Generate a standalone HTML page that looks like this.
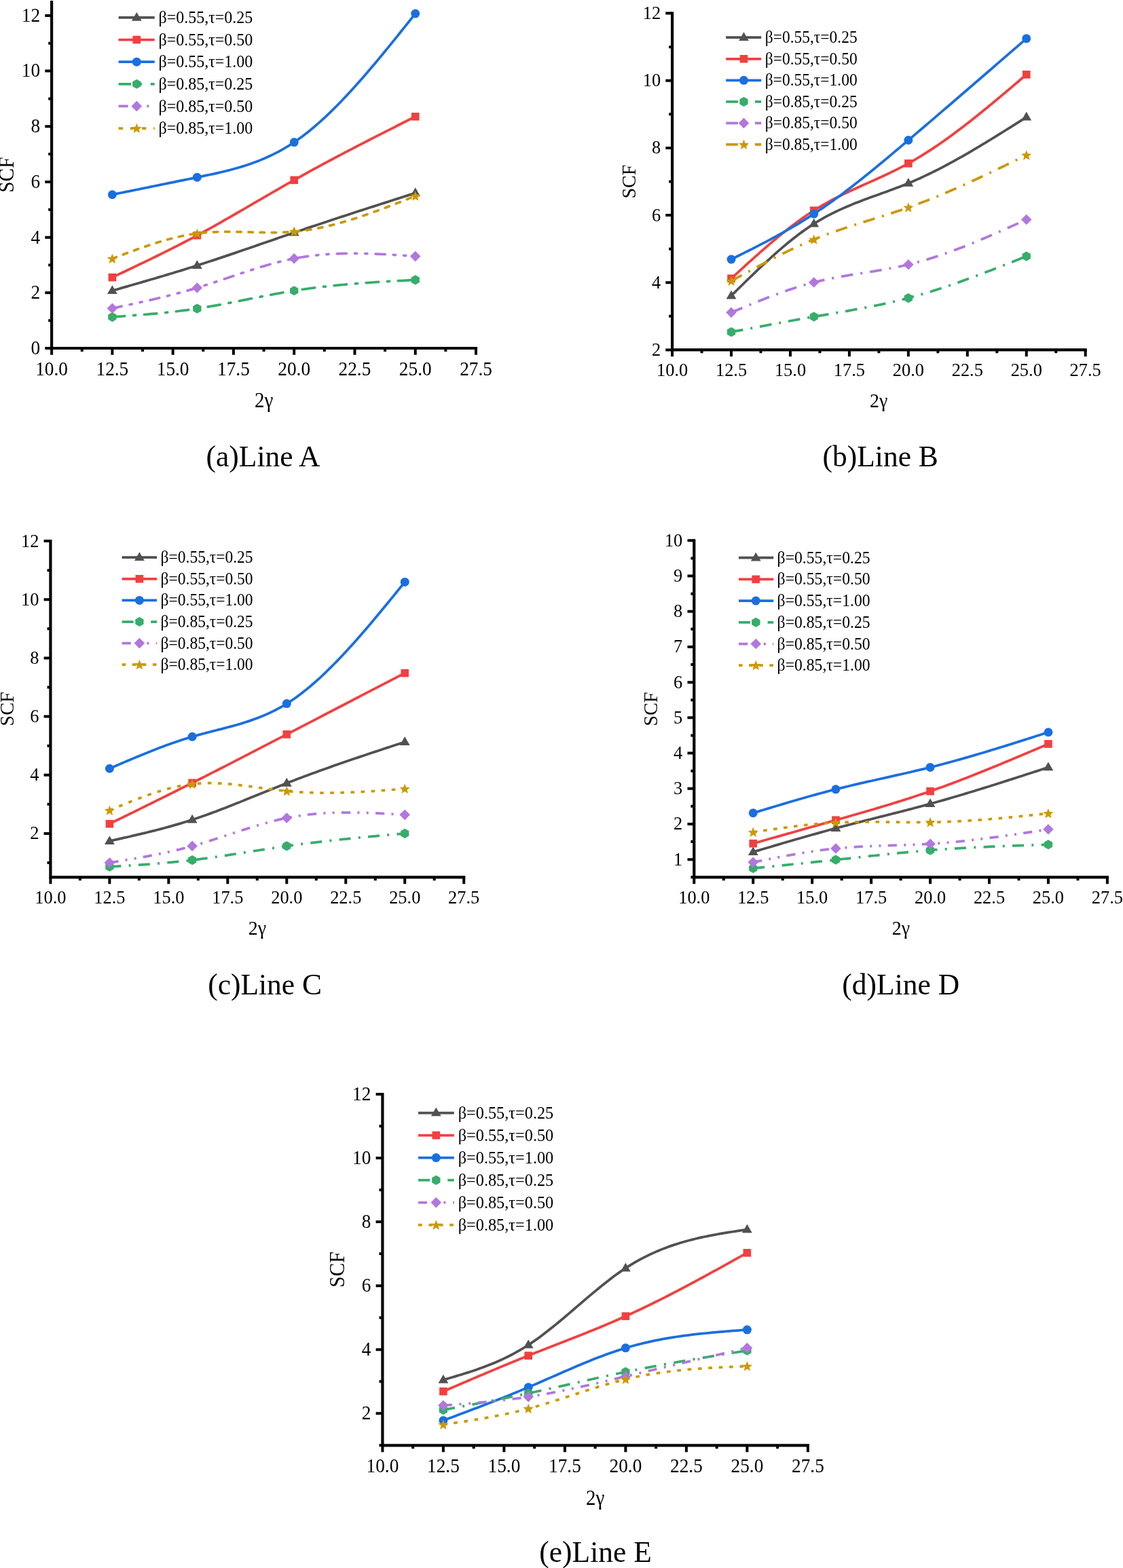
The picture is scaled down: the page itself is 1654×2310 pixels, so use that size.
<!DOCTYPE html>
<html lang="en"><head><meta charset="utf-8"><title>SCF versus 2γ</title>
<style>html,body{margin:0;padding:0;background:#fff}svg{display:block}text{font-family:'Liberation Serif', 'Times New Roman', Times, serif;fill:#000}</style></head><body>
<svg width="1654" height="2310" viewBox="0 0 1654 2310">
<rect width="1654" height="2310" fill="#fff"/>
<g id="chart-a">
<polyline points="165.37,428.26 169.83,426.98 174.3,425.7 178.76,424.42 183.23,423.14 187.69,421.86 192.15,420.57 196.62,419.29 201.08,418 205.54,416.7 210.01,415.41 214.47,414.11 218.93,412.81 223.4,411.5 227.86,410.19 232.32,408.87 236.79,407.55 241.25,406.22 245.72,404.88 250.18,403.54 254.64,402.19 259.11,400.83 263.57,399.47 268.03,398.09 272.5,396.71 276.96,395.32 281.42,393.92 285.89,392.51 290.35,391.09 294.81,389.66 299.28,388.22 303.74,386.77 308.21,385.31 312.67,383.85 317.13,382.37 321.6,380.89 326.06,379.4 330.52,377.9 334.99,376.4 339.45,374.89 343.91,373.38 348.38,371.86 352.84,370.33 357.3,368.81 361.77,367.28 366.23,365.74 370.7,364.21 375.16,362.67 379.62,361.13 384.09,359.59 388.55,358.05 393.01,356.5 397.48,354.96 401.94,353.42 406.4,351.88 410.87,350.34 415.33,348.81 419.79,347.28 424.26,345.75 428.72,344.22 433.19,342.7 437.65,341.18 442.11,339.67 446.58,338.16 451.04,336.65 455.5,335.15 459.97,333.65 464.43,332.16 468.89,330.67 473.36,329.19 477.82,327.7 482.28,326.22 486.75,324.75 491.21,323.28 495.68,321.81 500.14,320.34 504.6,318.88 509.07,317.41 513.53,315.96 517.99,314.5 522.46,313.05 526.92,311.59 531.38,310.15 535.85,308.7 540.31,307.25 544.77,305.81 549.24,304.37 553.7,302.93 558.17,301.49 562.63,300.05 567.09,298.61 571.56,297.18 576.02,295.75 580.48,294.31 584.95,292.88 589.41,291.45 593.87,290.02 598.34,288.59 602.8,287.16 607.26,285.73 611.73,284.3" fill="none" stroke="#515151" stroke-width="3.75" stroke-linejoin="round"/>
<polygon points="165.37,420.32 157.97,433.12 172.77,433.12" fill="#515151"/>
<polygon points="290.35,383.16 282.95,395.96 297.75,395.96" fill="#515151"/>
<polygon points="433.19,334.76 425.79,347.56 440.59,347.56" fill="#515151"/>
<polygon points="611.73,276.36 604.33,289.16 619.13,289.16" fill="#515151"/>
<polyline points="165.37,408.65 169.83,406.54 174.3,404.42 178.76,402.31 183.23,400.19 187.69,398.06 192.15,395.94 196.62,393.81 201.08,391.67 205.54,389.53 210.01,387.38 214.47,385.23 218.93,383.07 223.4,380.89 227.86,378.71 232.32,376.52 236.79,374.32 241.25,372.11 245.72,369.88 250.18,367.64 254.64,365.39 259.11,363.12 263.57,360.84 268.03,358.54 272.5,356.22 276.96,353.89 281.42,351.54 285.89,349.17 290.35,346.78 294.81,344.37 299.28,341.94 303.74,339.5 308.21,337.03 312.67,334.55 317.13,332.06 321.6,329.55 326.06,327.02 330.52,324.49 334.99,321.94 339.45,319.39 343.91,316.82 348.38,314.25 352.84,311.67 357.3,309.09 361.77,306.5 366.23,303.91 370.7,301.31 375.16,298.72 379.62,296.12 384.09,293.52 388.55,290.93 393.01,288.34 397.48,285.75 401.94,283.17 406.4,280.59 410.87,278.02 415.33,275.46 419.79,272.9 424.26,270.36 428.72,267.83 433.19,265.31 437.65,262.8 442.11,260.3 446.58,257.82 451.04,255.35 455.5,252.89 459.97,250.45 464.43,248.01 468.89,245.59 473.36,243.17 477.82,240.77 482.28,238.38 486.75,235.99 491.21,233.62 495.68,231.25 500.14,228.89 504.6,226.55 509.07,224.2 513.53,221.87 517.99,219.54 522.46,217.22 526.92,214.91 531.38,212.61 535.85,210.3 540.31,208.01 544.77,205.72 549.24,203.44 553.7,201.15 558.17,198.88 562.63,196.61 567.09,194.34 571.56,192.07 576.02,189.81 580.48,187.55 584.95,185.29 589.41,183.04 593.87,180.79 598.34,178.53 602.8,176.28 607.26,174.03 611.73,171.78" fill="none" stroke="#F14040" stroke-width="3.75" stroke-linejoin="round"/>
<rect x="159.57" y="402.85" width="11.6" height="11.6" fill="#F14040"/>
<rect x="284.55" y="340.98" width="11.6" height="11.6" fill="#F14040"/>
<rect x="427.39" y="259.51" width="11.6" height="11.6" fill="#F14040"/>
<rect x="605.93" y="165.98" width="11.6" height="11.6" fill="#F14040"/>
<polyline points="165.37,286.75 169.83,285.84 174.3,284.93 178.76,284.02 183.23,283.11 187.69,282.2 192.15,281.29 196.62,280.38 201.08,279.47 205.54,278.56 210.01,277.65 214.47,276.74 218.93,275.83 223.4,274.92 227.86,274.01 232.32,273.1 236.79,272.18 241.25,271.27 245.72,270.36 250.18,269.45 254.64,268.54 259.11,267.62 263.57,266.71 268.03,265.8 272.5,264.88 276.96,263.97 281.42,263.05 285.89,262.14 290.35,261.22 294.81,260.3 299.28,259.38 303.74,258.45 308.21,257.51 312.67,256.55 317.13,255.57 321.6,254.57 326.06,253.53 330.52,252.47 334.99,251.36 339.45,250.22 343.91,249.03 348.38,247.79 352.84,246.5 357.3,245.15 361.77,243.74 366.23,242.27 370.7,240.72 375.16,239.1 379.62,237.41 384.09,235.63 388.55,233.77 393.01,231.82 397.48,229.77 401.94,227.63 406.4,225.39 410.87,223.04 415.33,220.58 419.79,218 424.26,215.31 428.72,212.5 433.19,209.56 437.65,206.49 442.11,203.3 446.58,199.98 451.04,196.54 455.5,192.98 459.97,189.31 464.43,185.53 468.89,181.64 473.36,177.65 477.82,173.56 482.28,169.37 486.75,165.09 491.21,160.71 495.68,156.25 500.14,151.7 504.6,147.07 509.07,142.37 513.53,137.59 517.99,132.73 522.46,127.81 526.92,122.83 531.38,117.78 535.85,112.67 540.31,107.51 544.77,102.3 549.24,97.03 553.7,91.73 558.17,86.38 562.63,80.99 567.09,75.56 571.56,70.1 576.02,64.62 580.48,59.11 584.95,53.57 589.41,48.01 593.87,42.44 598.34,36.86 602.8,31.27 607.26,25.66 611.73,20.06" fill="none" stroke="#1A6FDF" stroke-width="3.75" stroke-linejoin="round"/>
<circle cx="165.37" cy="286.75" r="6.5" fill="#1A6FDF"/>
<circle cx="290.35" cy="261.22" r="6.5" fill="#1A6FDF"/>
<circle cx="433.19" cy="209.56" r="6.5" fill="#1A6FDF"/>
<circle cx="611.73" cy="20.06" r="6.5" fill="#1A6FDF"/>
<polyline points="165.37,467.06 169.83,466.73 174.3,466.4 178.76,466.07 183.23,465.74 187.69,465.4 192.15,465.06 196.62,464.71 201.08,464.36 205.54,464 210.01,463.63 214.47,463.25 218.93,462.87 223.4,462.47 227.86,462.06 232.32,461.64 236.79,461.2 241.25,460.75 245.72,460.29 250.18,459.8 254.64,459.31 259.11,458.79 263.57,458.26 268.03,457.7 272.5,457.12 276.96,456.53 281.42,455.91 285.89,455.27 290.35,454.6 294.81,453.91 299.28,453.19 303.74,452.45 308.21,451.7 312.67,450.92 317.13,450.12 321.6,449.31 326.06,448.49 330.52,447.65 334.99,446.8 339.45,445.94 343.91,445.07 348.38,444.2 352.84,443.32 357.3,442.43 361.77,441.55 366.23,440.66 370.7,439.77 375.16,438.88 379.62,438 384.09,437.13 388.55,436.26 393.01,435.4 397.48,434.54 401.94,433.7 406.4,432.87 410.87,432.06 415.33,431.26 419.79,430.48 424.26,429.72 428.72,428.98 433.19,428.26 437.65,427.56 442.11,426.89 446.58,426.23 451.04,425.6 455.5,424.99 459.97,424.4 464.43,423.83 468.89,423.28 473.36,422.75 477.82,422.24 482.28,421.74 486.75,421.26 491.21,420.8 495.68,420.35 500.14,419.92 504.6,419.5 509.07,419.1 513.53,418.71 517.99,418.33 522.46,417.96 526.92,417.61 531.38,417.27 535.85,416.94 540.31,416.61 544.77,416.3 549.24,416 553.7,415.7 558.17,415.41 562.63,415.13 567.09,414.86 571.56,414.59 576.02,414.32 580.48,414.06 584.95,413.81 589.41,413.56 593.87,413.31 598.34,413.06 602.8,412.82 607.26,412.57 611.73,412.33" fill="none" stroke="#37AD6B" stroke-width="3.75" stroke-linejoin="round" stroke-dasharray="18.5 12.8 3.1 12.8" stroke-linecap="round"/>
<polygon points="165.37,459.95 171.52,463.5 171.52,470.61 165.37,474.16 159.22,470.61 159.22,463.5" fill="#37AD6B"/>
<polygon points="290.35,447.5 296.5,451.05 296.5,458.15 290.35,461.7 284.2,458.15 284.2,451.05" fill="#37AD6B"/>
<polygon points="433.19,421.16 439.33,424.71 439.33,431.81 433.19,435.36 427.04,431.81 427.04,424.71" fill="#37AD6B"/>
<polygon points="611.73,405.23 617.88,408.78 617.88,415.88 611.73,419.43 605.58,415.88 605.58,408.78" fill="#37AD6B"/>
<polyline points="165.37,454.19 169.83,453.25 174.3,452.3 178.76,451.36 183.23,450.41 187.69,449.45 192.15,448.49 196.62,447.53 201.08,446.55 205.54,445.57 210.01,444.58 214.47,443.58 218.93,442.57 223.4,441.55 227.86,440.51 232.32,439.45 236.79,438.39 241.25,437.3 245.72,436.2 250.18,435.08 254.64,433.94 259.11,432.77 263.57,431.59 268.03,430.38 272.5,429.15 276.96,427.9 281.42,426.61 285.89,425.31 290.35,423.97 294.81,422.6 299.28,421.21 303.74,419.8 308.21,418.36 312.67,416.91 317.13,415.44 321.6,413.95 326.06,412.46 330.52,410.96 334.99,409.46 339.45,407.95 343.91,406.45 348.38,404.95 352.84,403.46 357.3,401.97 361.77,400.5 366.23,399.05 370.7,397.61 375.16,396.19 379.62,394.8 384.09,393.43 388.55,392.09 393.01,390.78 397.48,389.51 401.94,388.27 406.4,387.07 410.87,385.92 415.33,384.81 419.79,383.75 424.26,382.74 428.72,381.78 433.19,380.88 437.65,380.04 442.11,379.26 446.58,378.53 451.04,377.86 455.5,377.24 459.97,376.67 464.43,376.15 468.89,375.68 473.36,375.26 477.82,374.89 482.28,374.56 486.75,374.27 491.21,374.02 495.68,373.82 500.14,373.65 504.6,373.52 509.07,373.42 513.53,373.36 517.99,373.33 522.46,373.33 526.92,373.36 531.38,373.42 535.85,373.51 540.31,373.62 544.77,373.76 549.24,373.91 553.7,374.09 558.17,374.29 562.63,374.5 567.09,374.73 571.56,374.98 576.02,375.24 580.48,375.51 584.95,375.79 589.41,376.08 593.87,376.38 598.34,376.68 602.8,376.99 607.26,377.3 611.73,377.62" fill="none" stroke="#B177DE" stroke-width="3.75" stroke-linejoin="round" stroke-dasharray="14.1 12.2 3.1 12.2 3.1 12.2" stroke-linecap="round"/>
<polygon points="165.37,446.39 173.17,454.19 165.37,461.99 157.57,454.19" fill="#B177DE"/>
<polygon points="290.35,416.17 298.15,423.97 290.35,431.77 282.55,423.97" fill="#B177DE"/>
<polygon points="433.19,373.08 440.99,380.88 433.19,388.68 425.39,380.88" fill="#B177DE"/>
<polygon points="611.73,369.82 619.53,377.62 611.73,385.42 603.93,377.62" fill="#B177DE"/>
<polyline points="165.37,381.09 169.83,379.38 174.3,377.68 178.76,375.99 183.23,374.3 187.69,372.63 192.15,370.97 196.62,369.33 201.08,367.7 205.54,366.1 210.01,364.53 214.47,362.99 218.93,361.47 223.4,359.99 227.86,358.55 232.32,357.15 236.79,355.79 241.25,354.48 245.72,353.22 250.18,352.01 254.64,350.85 259.11,349.76 263.57,348.72 268.03,347.74 272.5,346.84 276.96,346 281.42,345.23 285.89,344.54 290.35,343.92 294.81,343.39 299.28,342.93 303.74,342.54 308.21,342.22 312.67,341.96 317.13,341.76 321.6,341.61 326.06,341.51 330.52,341.45 334.99,341.43 339.45,341.44 343.91,341.49 348.38,341.55 352.84,341.64 357.3,341.74 361.77,341.86 366.23,341.98 370.7,342.1 375.16,342.21 379.62,342.32 384.09,342.42 388.55,342.49 393.01,342.55 397.48,342.58 401.94,342.57 406.4,342.53 410.87,342.45 415.33,342.33 419.79,342.15 424.26,341.92 428.72,341.62 433.19,341.27 437.65,340.84 442.11,340.35 446.58,339.79 451.04,339.17 455.5,338.49 459.97,337.74 464.43,336.94 468.89,336.08 473.36,335.17 477.82,334.2 482.28,333.18 486.75,332.11 491.21,330.99 495.68,329.82 500.14,328.61 504.6,327.36 509.07,326.06 513.53,324.72 517.99,323.35 522.46,321.94 526.92,320.5 531.38,319.02 535.85,317.51 540.31,315.97 544.77,314.41 549.24,312.82 553.7,311.2 558.17,309.57 562.63,307.91 567.09,306.23 571.56,304.53 576.02,302.82 580.48,301.1 584.95,299.36 589.41,297.62 593.87,295.86 598.34,294.1 602.8,292.33 607.26,290.56 611.73,288.79" fill="none" stroke="#CC9900" stroke-width="3.75" stroke-linejoin="round" stroke-dasharray="6.4 10.8" stroke-linecap="round"/>
<polygon points="165.37,373.69 167.43,378.86 172.98,379.21 168.7,382.77 170.07,388.16 165.37,385.19 160.67,388.16 162.04,382.77 157.76,379.21 163.31,378.86" fill="#CC9900"/>
<polygon points="290.35,336.52 292.41,341.69 297.96,342.05 293.68,345.6 295.05,350.99 290.35,348.02 285.65,350.99 287.02,345.6 282.74,342.05 288.29,341.69" fill="#CC9900"/>
<polygon points="433.19,333.87 435.24,339.04 440.79,339.4 436.51,342.95 437.89,348.34 433.19,345.37 428.48,348.34 429.86,342.95 425.58,339.4 431.13,339.04" fill="#CC9900"/>
<polygon points="611.73,281.39 613.79,286.56 619.34,286.92 615.06,290.47 616.43,295.86 611.73,292.89 607.03,295.86 608.4,290.47 604.12,286.92 609.67,286.56" fill="#CC9900"/>
<g stroke="#000" fill="none">
<path d="M76.1 3.1V513H701" stroke-width="4.2" stroke-linecap="square"/>
<path d="M76.1 513v9.8M165.37 513v9.8M254.64 513v9.8M343.91 513v9.8M433.19 513v9.8M522.46 513v9.8M611.73 513v9.8M701 513v9.8M120.74 513v4.9M210.01 513v4.9M299.28 513v4.9M388.55 513v4.9M477.82 513v4.9M567.09 513v4.9M656.36 513v4.9M76.1 513h-9.8M76.1 431.32h-9.8M76.1 349.64h-9.8M76.1 267.96h-9.8M76.1 186.28h-9.8M76.1 104.6h-9.8M76.1 22.92h-9.8M76.1 472.16h-4.9M76.1 390.48h-4.9M76.1 308.8h-4.9M76.1 227.12h-4.9M76.1 145.44h-4.9M76.1 63.76h-4.9" stroke-width="4.0"/>
</g>
<text transform="translate(76.1 552.6) scale(0.935 1)" font-size="29.2" text-anchor="middle">10.0</text>
<text transform="translate(165.37 552.6) scale(0.935 1)" font-size="29.2" text-anchor="middle">12.5</text>
<text transform="translate(254.64 552.6) scale(0.935 1)" font-size="29.2" text-anchor="middle">15.0</text>
<text transform="translate(343.91 552.6) scale(0.935 1)" font-size="29.2" text-anchor="middle">17.5</text>
<text transform="translate(433.19 552.6) scale(0.935 1)" font-size="29.2" text-anchor="middle">20.0</text>
<text transform="translate(522.46 552.6) scale(0.935 1)" font-size="29.2" text-anchor="middle">22.5</text>
<text transform="translate(611.73 552.6) scale(0.935 1)" font-size="29.2" text-anchor="middle">25.0</text>
<text transform="translate(701 552.6) scale(0.935 1)" font-size="29.2" text-anchor="middle">27.5</text>
<text transform="translate(59.1 521.87) scale(0.935 1)" font-size="29.2" text-anchor="end">0</text>
<text transform="translate(59.1 440.19) scale(0.935 1)" font-size="29.2" text-anchor="end">2</text>
<text transform="translate(59.1 358.51) scale(0.935 1)" font-size="29.2" text-anchor="end">4</text>
<text transform="translate(59.1 276.83) scale(0.935 1)" font-size="29.2" text-anchor="end">6</text>
<text transform="translate(59.1 195.15) scale(0.935 1)" font-size="29.2" text-anchor="end">8</text>
<text transform="translate(59.1 113.47) scale(0.935 1)" font-size="29.2" text-anchor="end">10</text>
<text transform="translate(59.1 31.79) scale(0.935 1)" font-size="29.2" text-anchor="end">12</text>
<text transform="translate(388.7 600) scale(0.935 1)" font-size="31.02" text-anchor="middle">2γ</text>
<text transform="translate(20 257.6) rotate(-90) scale(0.935 1)" font-size="31.44" text-anchor="middle">SCF</text>
<text transform="translate(387.5 687.1) scale(0.98 1)" font-size="44.39" text-anchor="middle">(a)Line A</text>
<g>
<path d="M174.6 25.9H227.7" fill="none" stroke="#515151" stroke-width="3.75" stroke-linejoin="round"/>
<polygon points="201.3,17.96 193.9,30.76 208.7,30.76" fill="#515151"/>
<text transform="translate(233.5 34.06) scale(0.935 1)" font-size="25.67">β=0.55,τ=0.25</text>
<path d="M174.6 58.52H227.7" fill="none" stroke="#F14040" stroke-width="3.75" stroke-linejoin="round"/>
<rect x="195.5" y="52.72" width="11.6" height="11.6" fill="#F14040"/>
<text transform="translate(233.5 66.68) scale(0.935 1)" font-size="25.67">β=0.55,τ=0.50</text>
<path d="M174.6 91.14H227.7" fill="none" stroke="#1A6FDF" stroke-width="3.75" stroke-linejoin="round"/>
<circle cx="201.3" cy="91.14" r="6.5" fill="#1A6FDF"/>
<text transform="translate(233.5 99.3) scale(0.935 1)" font-size="25.67">β=0.55,τ=1.00</text>
<path d="M174.6 123.76H227.7" fill="none" stroke="#37AD6B" stroke-width="3.75" stroke-linejoin="round" stroke-dasharray="18.5 12.8 3.1 12.8"/>
<polygon points="201.3,116.66 207.45,120.21 207.45,127.31 201.3,130.86 195.15,127.31 195.15,120.21" fill="#37AD6B"/>
<text transform="translate(233.5 131.92) scale(0.935 1)" font-size="25.67">β=0.85,τ=0.25</text>
<path d="M174.6 156.38H227.7" fill="none" stroke="#B177DE" stroke-width="3.75" stroke-linejoin="round" stroke-dasharray="14.1 12.2 3.1 12.2 3.1 12.2"/>
<polygon points="201.3,148.58 209.1,156.38 201.3,164.18 193.5,156.38" fill="#B177DE"/>
<text transform="translate(233.5 164.54) scale(0.935 1)" font-size="25.67">β=0.85,τ=0.50</text>
<path d="M174.6 189H227.7" fill="none" stroke="#CC9900" stroke-width="3.75" stroke-linejoin="round" stroke-dasharray="6.4 10.8"/>
<polygon points="201.3,181.6 203.36,186.77 208.91,187.13 204.63,190.68 206,196.07 201.3,193.1 196.6,196.07 197.97,190.68 193.69,187.13 199.24,186.77" fill="#CC9900"/>
<text transform="translate(233.5 197.16) scale(0.935 1)" font-size="25.67">β=0.85,τ=1.00</text>
</g>
</g>
<g id="chart-b">
<polyline points="1077.04,435.58 1081.39,431.29 1085.74,427.01 1090.08,422.73 1094.43,418.47 1098.78,414.22 1103.13,410 1107.47,405.79 1111.82,401.62 1116.17,397.47 1120.51,393.36 1124.86,389.28 1129.21,385.25 1133.56,381.27 1137.9,377.34 1142.25,373.46 1146.6,369.64 1150.94,365.88 1155.29,362.18 1159.64,358.56 1163.99,355.01 1168.33,351.54 1172.68,348.15 1177.03,344.84 1181.37,341.62 1185.72,338.5 1190.07,335.47 1194.42,332.55 1198.76,329.72 1203.11,327.01 1207.46,324.4 1211.8,321.88 1216.15,319.46 1220.5,317.13 1224.85,314.89 1229.19,312.72 1233.54,310.63 1237.89,308.6 1242.23,306.64 1246.58,304.74 1250.93,302.9 1255.28,301.11 1259.62,299.36 1263.97,297.65 1268.32,295.97 1272.66,294.33 1277.01,292.71 1281.36,291.11 1285.71,289.53 1290.05,287.95 1294.4,286.39 1298.75,284.82 1303.09,283.25 1307.44,281.68 1311.79,280.09 1316.14,278.48 1320.48,276.84 1324.83,275.18 1329.18,273.49 1333.52,271.75 1337.87,269.98 1342.22,268.16 1346.57,266.29 1350.91,264.37 1355.26,262.42 1359.61,260.41 1363.95,258.37 1368.3,256.29 1372.65,254.16 1377,252 1381.34,249.8 1385.69,247.57 1390.04,245.3 1394.38,243 1398.73,240.66 1403.08,238.3 1407.43,235.9 1411.77,233.48 1416.12,231.03 1420.47,228.55 1424.81,226.05 1429.16,223.52 1433.51,220.97 1437.86,218.4 1442.2,215.81 1446.55,213.2 1450.9,210.57 1455.24,207.92 1459.59,205.26 1463.94,202.59 1468.29,199.9 1472.63,197.2 1476.98,194.49 1481.33,191.77 1485.67,189.04 1490.02,186.3 1494.37,183.56 1498.72,180.81 1503.06,178.06 1507.41,175.31 1511.76,172.55" fill="none" stroke="#515151" stroke-width="3.75" stroke-linejoin="round"/>
<polygon points="1077.04,427.64 1069.64,440.44 1084.44,440.44" fill="#515151"/>
<polygon points="1198.76,321.79 1191.36,334.59 1206.16,334.59" fill="#515151"/>
<polygon points="1337.87,262.04 1330.47,274.84 1345.27,274.84" fill="#515151"/>
<polygon points="1511.76,164.62 1504.36,177.42 1519.16,177.42" fill="#515151"/>
<polyline points="1077.04,410.29 1081.39,406.3 1085.74,402.32 1090.08,398.34 1094.43,394.38 1098.78,390.42 1103.13,386.48 1107.47,382.56 1111.82,378.66 1116.17,374.79 1120.51,370.95 1124.86,367.13 1129.21,363.35 1133.56,359.61 1137.9,355.91 1142.25,352.25 1146.6,348.64 1150.94,345.08 1155.29,341.58 1159.64,338.13 1163.99,334.74 1168.33,331.41 1172.68,328.15 1177.03,324.96 1181.37,321.84 1185.72,318.79 1190.07,315.82 1194.42,312.94 1198.76,310.14 1203.11,307.43 1207.46,304.79 1211.8,302.24 1216.15,299.76 1220.5,297.35 1224.85,295.01 1229.19,292.72 1233.54,290.49 1237.89,288.3 1242.23,286.16 1246.58,284.06 1250.93,282 1255.28,279.97 1259.62,277.96 1263.97,275.97 1268.32,274 1272.66,272.04 1277.01,270.09 1281.36,268.14 1285.71,266.18 1290.05,264.22 1294.4,262.24 1298.75,260.25 1303.09,258.23 1307.44,256.19 1311.79,254.12 1316.14,252 1320.48,249.85 1324.83,247.65 1329.18,245.4 1333.52,243.09 1337.87,240.73 1342.22,238.3 1346.57,235.8 1350.91,233.24 1355.26,230.62 1359.61,227.95 1363.95,225.21 1368.3,222.42 1372.65,219.58 1377,216.68 1381.34,213.73 1385.69,210.74 1390.04,207.69 1394.38,204.6 1398.73,201.47 1403.08,198.29 1407.43,195.08 1411.77,191.82 1416.12,188.53 1420.47,185.19 1424.81,181.83 1429.16,178.43 1433.51,175 1437.86,171.55 1442.2,168.06 1446.55,164.55 1450.9,161.01 1455.24,157.45 1459.59,153.87 1463.94,150.27 1468.29,146.65 1472.63,143.02 1476.98,139.37 1481.33,135.7 1485.67,132.03 1490.02,128.35 1494.37,124.65 1498.72,120.95 1503.06,117.25 1507.41,113.54 1511.76,109.84" fill="none" stroke="#F14040" stroke-width="3.75" stroke-linejoin="round"/>
<rect x="1071.24" y="404.49" width="11.6" height="11.6" fill="#F14040"/>
<rect x="1192.96" y="304.34" width="11.6" height="11.6" fill="#F14040"/>
<rect x="1332.07" y="234.93" width="11.6" height="11.6" fill="#F14040"/>
<rect x="1505.96" y="104.04" width="11.6" height="11.6" fill="#F14040"/>
<polyline points="1077.04,382.03 1081.39,379.87 1085.74,377.71 1090.08,375.54 1094.43,373.37 1098.78,371.19 1103.13,369 1107.47,366.8 1111.82,364.59 1116.17,362.37 1120.51,360.13 1124.86,357.87 1129.21,355.59 1133.56,353.29 1137.9,350.97 1142.25,348.63 1146.6,346.25 1150.94,343.85 1155.29,341.42 1159.64,338.96 1163.99,336.47 1168.33,333.94 1172.68,331.37 1177.03,328.77 1181.37,326.12 1185.72,323.43 1190.07,320.7 1194.42,317.92 1198.76,315.1 1203.11,312.22 1207.46,309.3 1211.8,306.33 1216.15,303.32 1220.5,300.27 1224.85,297.17 1229.19,294.03 1233.54,290.85 1237.89,287.64 1242.23,284.38 1246.58,281.1 1250.93,277.78 1255.28,274.42 1259.62,271.04 1263.97,267.63 1268.32,264.19 1272.66,260.72 1277.01,257.23 1281.36,253.71 1285.71,250.18 1290.05,246.62 1294.4,243.04 1298.75,239.45 1303.09,235.83 1307.44,232.21 1311.79,228.57 1316.14,224.91 1320.48,221.25 1324.83,217.58 1329.18,213.9 1333.52,210.21 1337.87,206.52 1342.22,202.82 1346.57,199.12 1350.91,195.42 1355.26,191.71 1359.61,188 1363.95,184.29 1368.3,180.57 1372.65,176.85 1377,173.13 1381.34,169.4 1385.69,165.68 1390.04,161.95 1394.38,158.21 1398.73,154.48 1403.08,150.74 1407.43,147 1411.77,143.26 1416.12,139.51 1420.47,135.77 1424.81,132.02 1429.16,128.27 1433.51,124.52 1437.86,120.76 1442.2,117.01 1446.55,113.25 1450.9,109.49 1455.24,105.73 1459.59,101.97 1463.94,98.21 1468.29,94.45 1472.63,90.68 1476.98,86.92 1481.33,83.15 1485.67,79.39 1490.02,75.62 1494.37,71.85 1498.72,68.09 1503.06,64.32 1507.41,60.55 1511.76,56.78" fill="none" stroke="#1A6FDF" stroke-width="3.75" stroke-linejoin="round"/>
<circle cx="1077.04" cy="382.03" r="6.5" fill="#1A6FDF"/>
<circle cx="1198.76" cy="315.1" r="6.5" fill="#1A6FDF"/>
<circle cx="1337.87" cy="206.52" r="6.5" fill="#1A6FDF"/>
<circle cx="1511.76" cy="56.78" r="6.5" fill="#1A6FDF"/>
<polyline points="1077.04,489.12 1081.39,488.29 1085.74,487.46 1090.08,486.63 1094.43,485.81 1098.78,484.98 1103.13,484.15 1107.47,483.33 1111.82,482.5 1116.17,481.68 1120.51,480.86 1124.86,480.04 1129.21,479.22 1133.56,478.41 1137.9,477.59 1142.25,476.78 1146.6,475.97 1150.94,475.17 1155.29,474.37 1159.64,473.57 1163.99,472.78 1168.33,471.98 1172.68,471.2 1177.03,470.41 1181.37,469.63 1185.72,468.86 1190.07,468.09 1194.42,467.32 1198.76,466.56 1203.11,465.81 1207.46,465.06 1211.8,464.31 1216.15,463.56 1220.5,462.82 1224.85,462.07 1229.19,461.32 1233.54,460.57 1237.89,459.82 1242.23,459.06 1246.58,458.3 1250.93,457.53 1255.28,456.75 1259.62,455.96 1263.97,455.16 1268.32,454.36 1272.66,453.54 1277.01,452.7 1281.36,451.85 1285.71,450.99 1290.05,450.11 1294.4,449.22 1298.75,448.3 1303.09,447.36 1307.44,446.41 1311.79,445.43 1316.14,444.43 1320.48,443.41 1324.83,442.36 1329.18,441.28 1333.52,440.18 1337.87,439.05 1342.22,437.89 1346.57,436.7 1350.91,435.48 1355.26,434.24 1359.61,432.97 1363.95,431.67 1368.3,430.35 1372.65,429 1377,427.64 1381.34,426.24 1385.69,424.83 1390.04,423.4 1394.38,421.94 1398.73,420.47 1403.08,418.97 1407.43,417.46 1411.77,415.93 1416.12,414.38 1420.47,412.82 1424.81,411.24 1429.16,409.65 1433.51,408.04 1437.86,406.42 1442.2,404.79 1446.55,403.14 1450.9,401.49 1455.24,399.82 1459.59,398.15 1463.94,396.46 1468.29,394.77 1472.63,393.07 1476.98,391.37 1481.33,389.65 1485.67,387.94 1490.02,386.22 1494.37,384.49 1498.72,382.76 1503.06,381.03 1507.41,379.3 1511.76,377.57" fill="none" stroke="#37AD6B" stroke-width="3.75" stroke-linejoin="round" stroke-dasharray="17.7 11 3 11"/>
<polygon points="1077.04,482.02 1083.19,485.57 1083.19,492.67 1077.04,496.22 1070.89,492.67 1070.89,485.57" fill="#37AD6B"/>
<polygon points="1198.76,459.46 1204.91,463.01 1204.91,470.11 1198.76,473.66 1192.61,470.11 1192.61,463.01" fill="#37AD6B"/>
<polygon points="1337.87,431.95 1344.02,435.5 1344.02,442.6 1337.87,446.15 1331.72,442.6 1331.72,435.5" fill="#37AD6B"/>
<polygon points="1511.76,370.47 1517.91,374.02 1517.91,381.12 1511.76,384.67 1505.61,381.12 1505.61,374.02" fill="#37AD6B"/>
<polyline points="1077.04,460.37 1081.39,458.55 1085.74,456.73 1090.08,454.91 1094.43,453.1 1098.78,451.3 1103.13,449.51 1107.47,447.73 1111.82,445.96 1116.17,444.2 1120.51,442.47 1124.86,440.74 1129.21,439.04 1133.56,437.36 1137.9,435.71 1142.25,434.08 1146.6,432.47 1150.94,430.9 1155.29,429.35 1159.64,427.84 1163.99,426.36 1168.33,424.92 1172.68,423.52 1177.03,422.16 1181.37,420.83 1185.72,419.55 1190.07,418.32 1194.42,417.13 1198.76,415.99 1203.11,414.9 1207.46,413.86 1211.8,412.86 1216.15,411.91 1220.5,410.99 1224.85,410.11 1229.19,409.26 1233.54,408.44 1237.89,407.64 1242.23,406.87 1246.58,406.12 1250.93,405.39 1255.28,404.67 1259.62,403.96 1263.97,403.26 1268.32,402.57 1272.66,401.87 1277.01,401.18 1281.36,400.48 1285.71,399.78 1290.05,399.07 1294.4,398.34 1298.75,397.6 1303.09,396.84 1307.44,396.06 1311.79,395.25 1316.14,394.41 1320.48,393.55 1324.83,392.65 1329.18,391.71 1333.52,390.73 1337.87,389.71 1342.22,388.65 1346.57,387.54 1350.91,386.39 1355.26,385.19 1359.61,383.95 1363.95,382.68 1368.3,381.36 1372.65,380 1377,378.61 1381.34,377.19 1385.69,375.73 1390.04,374.23 1394.38,372.7 1398.73,371.15 1403.08,369.56 1407.43,367.94 1411.77,366.3 1416.12,364.63 1420.47,362.93 1424.81,361.21 1429.16,359.47 1433.51,357.71 1437.86,355.92 1442.2,354.12 1446.55,352.29 1450.9,350.45 1455.24,348.6 1459.59,346.73 1463.94,344.84 1468.29,342.94 1472.63,341.03 1476.98,339.12 1481.33,337.19 1485.67,335.25 1490.02,333.31 1494.37,331.36 1498.72,329.4 1503.06,327.45 1507.41,325.49 1511.76,323.53" fill="none" stroke="#B177DE" stroke-width="3.75" stroke-linejoin="round" stroke-dasharray="17.7 11 3 11"/>
<polygon points="1077.04,452.57 1084.84,460.37 1077.04,468.17 1069.24,460.37" fill="#B177DE"/>
<polygon points="1198.76,408.19 1206.56,415.99 1198.76,423.79 1190.96,415.99" fill="#B177DE"/>
<polygon points="1337.87,381.91 1345.67,389.71 1337.87,397.51 1330.07,389.71" fill="#B177DE"/>
<polygon points="1511.76,315.73 1519.56,323.53 1511.76,331.33 1503.96,323.53" fill="#B177DE"/>
<polyline points="1077.04,414.01 1081.39,411.62 1085.74,409.23 1090.08,406.85 1094.43,404.47 1098.78,402.09 1103.13,399.73 1107.47,397.37 1111.82,395.03 1116.17,392.69 1120.51,390.37 1124.86,388.07 1129.21,385.78 1133.56,383.52 1137.9,381.27 1142.25,379.04 1146.6,376.84 1150.94,374.66 1155.29,372.51 1159.64,370.38 1163.99,368.29 1168.33,366.23 1172.68,364.19 1177.03,362.2 1181.37,360.24 1185.72,358.31 1190.07,356.43 1194.42,354.58 1198.76,352.78 1203.11,351.02 1207.46,349.3 1211.8,347.62 1216.15,345.97 1220.5,344.36 1224.85,342.79 1229.19,341.24 1233.54,339.72 1237.89,338.22 1242.23,336.75 1246.58,335.3 1250.93,333.87 1255.28,332.45 1259.62,331.05 1263.97,329.66 1268.32,328.28 1272.66,326.91 1277.01,325.54 1281.36,324.18 1285.71,322.81 1290.05,321.45 1294.4,320.08 1298.75,318.7 1303.09,317.32 1307.44,315.92 1311.79,314.52 1316.14,313.09 1320.48,311.65 1324.83,310.2 1329.18,308.71 1333.52,307.21 1337.87,305.68 1342.22,304.12 1346.57,302.53 1350.91,300.91 1355.26,299.27 1359.61,297.6 1363.95,295.91 1368.3,294.2 1372.65,292.46 1377,290.69 1381.34,288.91 1385.69,287.1 1390.04,285.27 1394.38,283.42 1398.73,281.56 1403.08,279.67 1407.43,277.77 1411.77,275.85 1416.12,273.91 1420.47,271.96 1424.81,269.99 1429.16,268.01 1433.51,266.01 1437.86,264 1442.2,261.98 1446.55,259.95 1450.9,257.91 1455.24,255.85 1459.59,253.79 1463.94,251.72 1468.29,249.64 1472.63,247.56 1476.98,245.46 1481.33,243.37 1485.67,241.26 1490.02,239.16 1494.37,237.04 1498.72,234.93 1503.06,232.82 1507.41,230.7 1511.76,228.58" fill="none" stroke="#CC9900" stroke-width="3.75" stroke-linejoin="round" stroke-dasharray="17.7 11 3 11"/>
<polygon points="1077.04,406.61 1079.1,411.78 1084.65,412.14 1080.37,415.69 1081.75,421.08 1077.04,418.11 1072.34,421.08 1073.71,415.69 1069.43,412.14 1074.99,411.78" fill="#CC9900"/>
<polygon points="1198.76,345.38 1200.82,350.55 1206.37,350.91 1202.09,354.46 1203.47,359.85 1198.76,356.88 1194.06,359.85 1195.43,354.46 1191.15,350.91 1196.71,350.55" fill="#CC9900"/>
<polygon points="1337.87,298.28 1339.93,303.45 1345.48,303.8 1341.2,307.36 1342.57,312.75 1337.87,309.78 1333.17,312.75 1334.54,307.36 1330.26,303.8 1335.81,303.45" fill="#CC9900"/>
<polygon points="1511.76,221.18 1513.81,226.35 1519.37,226.71 1515.09,230.26 1516.46,235.65 1511.76,232.68 1507.05,235.65 1508.43,230.26 1504.15,226.71 1509.7,226.35" fill="#CC9900"/>
<g stroke="#000" fill="none">
<path d="M990.1 19.7V515.4H1598.7" stroke-width="4.2" stroke-linecap="square"/>
<path d="M990.1 515.4v9.8M1077.04 515.4v9.8M1163.99 515.4v9.8M1250.93 515.4v9.8M1337.87 515.4v9.8M1424.81 515.4v9.8M1511.76 515.4v9.8M1598.7 515.4v9.8M1033.57 515.4v4.9M1120.51 515.4v4.9M1207.46 515.4v4.9M1294.4 515.4v4.9M1381.34 515.4v4.9M1468.29 515.4v4.9M1555.23 515.4v4.9M990.1 515.4h-9.8M990.1 416.24h-9.8M990.1 317.08h-9.8M990.1 217.92h-9.8M990.1 118.76h-9.8M990.1 19.6h-9.8M990.1 465.82h-4.9M990.1 366.66h-4.9M990.1 267.5h-4.9M990.1 168.34h-4.9M990.1 69.18h-4.9" stroke-width="4.0"/>
</g>
<text transform="translate(990.1 554) scale(0.935 1)" font-size="28.24" text-anchor="middle">10.0</text>
<text transform="translate(1077.04 554) scale(0.935 1)" font-size="28.24" text-anchor="middle">12.5</text>
<text transform="translate(1163.99 554) scale(0.935 1)" font-size="28.24" text-anchor="middle">15.0</text>
<text transform="translate(1250.93 554) scale(0.935 1)" font-size="28.24" text-anchor="middle">17.5</text>
<text transform="translate(1337.87 554) scale(0.935 1)" font-size="28.24" text-anchor="middle">20.0</text>
<text transform="translate(1424.81 554) scale(0.935 1)" font-size="28.24" text-anchor="middle">22.5</text>
<text transform="translate(1511.76 554) scale(0.935 1)" font-size="28.24" text-anchor="middle">25.0</text>
<text transform="translate(1598.7 554) scale(0.935 1)" font-size="28.24" text-anchor="middle">27.5</text>
<text transform="translate(973.1 523.94) scale(0.935 1)" font-size="28.24" text-anchor="end">2</text>
<text transform="translate(973.1 424.78) scale(0.935 1)" font-size="28.24" text-anchor="end">4</text>
<text transform="translate(973.1 325.62) scale(0.935 1)" font-size="28.24" text-anchor="end">6</text>
<text transform="translate(973.1 226.46) scale(0.935 1)" font-size="28.24" text-anchor="end">8</text>
<text transform="translate(973.1 127.3) scale(0.935 1)" font-size="28.24" text-anchor="end">10</text>
<text transform="translate(973.1 28.14) scale(0.935 1)" font-size="28.24" text-anchor="end">12</text>
<text transform="translate(1294.2 599.7) scale(0.935 1)" font-size="29.95" text-anchor="middle">2γ</text>
<text transform="translate(935.5 267.6) rotate(-90) scale(0.935 1)" font-size="30.05" text-anchor="middle">SCF</text>
<text transform="translate(1296.7 687.3) scale(0.98 1)" font-size="44.39" text-anchor="middle">(b)Line B</text>
<g>
<path d="M1069.2 55.2H1121.2" fill="none" stroke="#515151" stroke-width="3.75" stroke-linejoin="round"/>
<polygon points="1095.5,47.26 1088.1,60.06 1102.9,60.06" fill="#515151"/>
<text transform="translate(1126.7 63.19) scale(0.935 1)" font-size="25.13">β=0.55,τ=0.25</text>
<path d="M1069.2 86.75H1121.2" fill="none" stroke="#F14040" stroke-width="3.75" stroke-linejoin="round"/>
<rect x="1089.7" y="80.95" width="11.6" height="11.6" fill="#F14040"/>
<text transform="translate(1126.7 94.74) scale(0.935 1)" font-size="25.13">β=0.55,τ=0.50</text>
<path d="M1069.2 118.3H1121.2" fill="none" stroke="#1A6FDF" stroke-width="3.75" stroke-linejoin="round"/>
<circle cx="1095.5" cy="118.3" r="6.5" fill="#1A6FDF"/>
<text transform="translate(1126.7 126.29) scale(0.935 1)" font-size="25.13">β=0.55,τ=1.00</text>
<path d="M1069.2 149.85H1121.2" fill="none" stroke="#37AD6B" stroke-width="3.75" stroke-linejoin="round" stroke-dasharray="17.7 11 3 11"/>
<polygon points="1095.5,142.75 1101.65,146.3 1101.65,153.4 1095.5,156.95 1089.35,153.4 1089.35,146.3" fill="#37AD6B"/>
<text transform="translate(1126.7 157.84) scale(0.935 1)" font-size="25.13">β=0.85,τ=0.25</text>
<path d="M1069.2 181.4H1121.2" fill="none" stroke="#B177DE" stroke-width="3.75" stroke-linejoin="round" stroke-dasharray="17.7 11 3 11"/>
<polygon points="1095.5,173.6 1103.3,181.4 1095.5,189.2 1087.7,181.4" fill="#B177DE"/>
<text transform="translate(1126.7 189.39) scale(0.935 1)" font-size="25.13">β=0.85,τ=0.50</text>
<path d="M1069.2 212.95H1121.2" fill="none" stroke="#CC9900" stroke-width="3.75" stroke-linejoin="round" stroke-dasharray="17.7 11 3 11"/>
<polygon points="1095.5,205.55 1097.56,210.72 1103.11,211.08 1098.83,214.63 1100.2,220.02 1095.5,217.05 1090.8,220.02 1092.17,214.63 1087.89,211.08 1093.44,210.72" fill="#CC9900"/>
<text transform="translate(1126.7 220.94) scale(0.935 1)" font-size="25.13">β=0.85,τ=1.00</text>
</g>
</g>
<g id="chart-c">
<polyline points="161.37,1239.1 165.72,1238.13 170.07,1237.15 174.42,1236.17 178.77,1235.19 183.11,1234.2 187.46,1233.21 191.81,1232.21 196.16,1231.2 200.51,1230.19 204.86,1229.16 209.21,1228.12 213.55,1227.07 217.9,1226.01 222.25,1224.93 226.6,1223.83 230.95,1222.72 235.3,1221.59 239.65,1220.45 243.99,1219.28 248.34,1218.09 252.69,1216.87 257.04,1215.64 261.39,1214.37 265.74,1213.09 270.09,1211.77 274.43,1210.43 278.78,1209.06 283.13,1207.65 287.48,1206.22 291.83,1204.75 296.18,1203.26 300.53,1201.74 304.87,1200.19 309.22,1198.62 313.57,1197.03 317.92,1195.41 322.27,1193.77 326.62,1192.12 330.97,1190.44 335.31,1188.75 339.66,1187.05 344.01,1185.33 348.36,1183.61 352.71,1181.87 357.06,1180.12 361.41,1178.36 365.75,1176.6 370.1,1174.84 374.45,1173.07 378.8,1171.3 383.15,1169.52 387.5,1167.75 391.85,1165.99 396.19,1164.22 400.54,1162.46 404.89,1160.71 409.24,1158.97 413.59,1157.24 417.94,1155.51 422.29,1153.8 426.63,1152.11 430.98,1150.42 435.33,1148.75 439.68,1147.09 444.03,1145.45 448.38,1143.82 452.73,1142.2 457.07,1140.59 461.42,1138.99 465.77,1137.4 470.12,1135.82 474.47,1134.26 478.82,1132.7 483.17,1131.15 487.51,1129.61 491.86,1128.08 496.21,1126.56 500.56,1125.05 504.91,1123.54 509.26,1122.04 513.61,1120.55 517.95,1119.07 522.3,1117.59 526.65,1116.11 531,1114.64 535.35,1113.18 539.7,1111.72 544.05,1110.27 548.39,1108.82 552.74,1107.38 557.09,1105.94 561.44,1104.5 565.79,1103.06 570.14,1101.63 574.49,1100.2 578.83,1098.77 583.18,1097.34 587.53,1095.91 591.88,1094.49 596.23,1093.06" fill="none" stroke="#515151" stroke-width="3.75" stroke-linejoin="round"/>
<polygon points="161.37,1231.16 153.97,1243.96 168.77,1243.96" fill="#515151"/>
<polygon points="283.13,1199.72 275.73,1212.52 290.53,1212.52" fill="#515151"/>
<polygon points="422.29,1145.87 414.89,1158.67 429.69,1158.67" fill="#515151"/>
<polygon points="596.23,1085.12 588.83,1097.92 603.63,1097.92" fill="#515151"/>
<polyline points="161.37,1213.68 165.72,1211.55 170.07,1209.41 174.42,1207.28 178.77,1205.14 183.11,1203 187.46,1200.87 191.81,1198.73 196.16,1196.59 200.51,1194.45 204.86,1192.31 209.21,1190.16 213.55,1188.02 217.9,1185.87 222.25,1183.73 226.6,1181.58 230.95,1179.42 235.3,1177.27 239.65,1175.11 243.99,1172.95 248.34,1170.79 252.69,1168.62 257.04,1166.45 261.39,1164.28 265.74,1162.11 270.09,1159.93 274.43,1157.75 278.78,1155.56 283.13,1153.37 287.48,1151.18 291.83,1148.98 296.18,1146.78 300.53,1144.57 304.87,1142.37 309.22,1140.15 313.57,1137.94 317.92,1135.72 322.27,1133.5 326.62,1131.27 330.97,1129.05 335.31,1126.82 339.66,1124.58 344.01,1122.35 348.36,1120.11 352.71,1117.87 357.06,1115.63 361.41,1113.39 365.75,1111.14 370.1,1108.9 374.45,1106.65 378.8,1104.4 383.15,1102.15 387.5,1099.9 391.85,1097.65 396.19,1095.39 400.54,1093.14 404.89,1090.88 409.24,1088.63 413.59,1086.37 417.94,1084.12 422.29,1081.86 426.63,1079.6 430.98,1077.35 435.33,1075.09 439.68,1072.83 444.03,1070.58 448.38,1068.32 452.73,1066.06 457.07,1063.81 461.42,1061.55 465.77,1059.3 470.12,1057.04 474.47,1054.78 478.82,1052.53 483.17,1050.27 487.51,1048.01 491.86,1045.76 496.21,1043.5 500.56,1041.25 504.91,1038.99 509.26,1036.73 513.61,1034.48 517.95,1032.22 522.3,1029.96 526.65,1027.71 531,1025.45 535.35,1023.19 539.7,1020.94 544.05,1018.68 548.39,1016.43 552.74,1014.17 557.09,1011.91 561.44,1009.66 565.79,1007.4 570.14,1005.14 574.49,1002.89 578.83,1000.63 583.18,998.38 587.53,996.12 591.88,993.86 596.23,991.61" fill="none" stroke="#F14040" stroke-width="3.75" stroke-linejoin="round"/>
<rect x="155.57" y="1207.88" width="11.6" height="11.6" fill="#F14040"/>
<rect x="277.33" y="1147.57" width="11.6" height="11.6" fill="#F14040"/>
<rect x="416.49" y="1076.06" width="11.6" height="11.6" fill="#F14040"/>
<rect x="590.43" y="985.81" width="11.6" height="11.6" fill="#F14040"/>
<polyline points="161.37,1132.26 165.72,1130.38 170.07,1128.51 174.42,1126.63 178.77,1124.76 183.11,1122.9 187.46,1121.05 191.81,1119.2 196.16,1117.36 200.51,1115.54 204.86,1113.73 209.21,1111.94 213.55,1110.16 217.9,1108.4 222.25,1106.67 226.6,1104.95 230.95,1103.26 235.3,1101.59 239.65,1099.95 243.99,1098.33 248.34,1096.75 252.69,1095.19 257.04,1093.67 261.39,1092.18 265.74,1090.73 270.09,1089.31 274.43,1087.94 278.78,1086.6 283.13,1085.31 287.48,1084.05 291.83,1082.84 296.18,1081.65 300.53,1080.5 304.87,1079.36 309.22,1078.24 313.57,1077.13 317.92,1076.03 322.27,1074.93 326.62,1073.81 330.97,1072.69 335.31,1071.55 339.66,1070.39 344.01,1069.19 348.36,1067.97 352.71,1066.7 357.06,1065.39 361.41,1064.03 365.75,1062.62 370.1,1061.14 374.45,1059.6 378.8,1057.98 383.15,1056.29 387.5,1054.51 391.85,1052.64 396.19,1050.68 400.54,1048.62 404.89,1046.45 409.24,1044.18 413.59,1041.78 417.94,1039.27 422.29,1036.62 426.63,1033.85 430.98,1030.95 435.33,1027.92 439.68,1024.76 444.03,1021.49 448.38,1018.1 452.73,1014.6 457.07,1010.99 461.42,1007.27 465.77,1003.45 470.12,999.53 474.47,995.51 478.82,991.4 483.17,987.2 487.51,982.92 491.86,978.55 496.21,974.1 500.56,969.57 504.91,964.98 509.26,960.31 513.61,955.57 517.95,950.78 522.3,945.92 526.65,941.01 531,936.04 535.35,931.02 539.7,925.96 544.05,920.85 548.39,915.7 552.74,910.52 557.09,905.31 561.44,900.06 565.79,894.79 570.14,889.49 574.49,884.17 578.83,878.84 583.18,873.5 587.53,868.14 591.88,862.78 596.23,857.41" fill="none" stroke="#1A6FDF" stroke-width="3.75" stroke-linejoin="round"/>
<circle cx="161.37" cy="1132.26" r="6.5" fill="#1A6FDF"/>
<circle cx="283.13" cy="1085.31" r="6.5" fill="#1A6FDF"/>
<circle cx="422.29" cy="1036.62" r="6.5" fill="#1A6FDF"/>
<circle cx="596.23" cy="857.41" r="6.5" fill="#1A6FDF"/>
<polyline points="161.37,1277.01 165.72,1276.74 170.07,1276.47 174.42,1276.19 178.77,1275.92 183.11,1275.64 187.46,1275.36 191.81,1275.08 196.16,1274.79 200.51,1274.49 204.86,1274.19 209.21,1273.89 213.55,1273.57 217.9,1273.25 222.25,1272.92 226.6,1272.59 230.95,1272.24 235.3,1271.88 239.65,1271.51 243.99,1271.13 248.34,1270.74 252.69,1270.34 257.04,1269.92 261.39,1269.49 265.74,1269.04 270.09,1268.58 274.43,1268.11 278.78,1267.61 283.13,1267.1 287.48,1266.58 291.83,1266.03 296.18,1265.47 300.53,1264.89 304.87,1264.31 309.22,1263.7 313.57,1263.09 317.92,1262.46 322.27,1261.83 326.62,1261.18 330.97,1260.53 335.31,1259.86 339.66,1259.19 344.01,1258.52 348.36,1257.84 352.71,1257.16 357.06,1256.47 361.41,1255.78 365.75,1255.09 370.1,1254.4 374.45,1253.71 378.8,1253.02 383.15,1252.34 387.5,1251.65 391.85,1250.98 396.19,1250.3 400.54,1249.64 404.89,1248.98 409.24,1248.32 413.59,1247.68 417.94,1247.05 422.29,1246.42 426.63,1245.81 430.98,1245.21 435.33,1244.62 439.68,1244.04 444.03,1243.48 448.38,1242.92 452.73,1242.37 457.07,1241.83 461.42,1241.3 465.77,1240.78 470.12,1240.27 474.47,1239.77 478.82,1239.27 483.17,1238.78 487.51,1238.3 491.86,1237.83 496.21,1237.36 500.56,1236.91 504.91,1236.45 509.26,1236.01 513.61,1235.57 517.95,1235.13 522.3,1234.7 526.65,1234.27 531,1233.85 535.35,1233.44 539.7,1233.02 544.05,1232.62 548.39,1232.21 552.74,1231.81 557.09,1231.41 561.44,1231.01 565.79,1230.62 570.14,1230.23 574.49,1229.84 578.83,1229.45 583.18,1229.06 587.53,1228.67 591.88,1228.29 596.23,1227.9" fill="none" stroke="#37AD6B" stroke-width="3.75" stroke-linejoin="round" stroke-dasharray="17 11.3 3 11.3"/>
<polygon points="161.37,1269.91 167.52,1273.46 167.52,1280.56 161.37,1284.11 155.22,1280.56 155.22,1273.46" fill="#37AD6B"/>
<polygon points="283.13,1260 289.28,1263.55 289.28,1270.65 283.13,1274.2 276.98,1270.65 276.98,1263.55" fill="#37AD6B"/>
<polygon points="422.29,1239.32 428.43,1242.87 428.43,1249.97 422.29,1253.52 416.14,1249.97 416.14,1242.87" fill="#37AD6B"/>
<polygon points="596.23,1220.8 602.38,1224.35 602.38,1231.45 596.23,1235 590.08,1231.45 590.08,1224.35" fill="#37AD6B"/>
<polyline points="161.37,1270.98 165.72,1270.27 170.07,1269.56 174.42,1268.85 178.77,1268.13 183.11,1267.41 187.46,1266.68 191.81,1265.94 196.16,1265.2 200.51,1264.44 204.86,1263.67 209.21,1262.89 213.55,1262.1 217.9,1261.29 222.25,1260.46 226.6,1259.62 230.95,1258.76 235.3,1257.87 239.65,1256.97 243.99,1256.04 248.34,1255.08 252.69,1254.1 257.04,1253.1 261.39,1252.06 265.74,1251 270.09,1249.91 274.43,1248.78 278.78,1247.62 283.13,1246.42 287.48,1245.19 291.83,1243.93 296.18,1242.64 300.53,1241.32 304.87,1239.97 309.22,1238.61 313.57,1237.22 317.92,1235.82 322.27,1234.41 326.62,1232.99 330.97,1231.56 335.31,1230.12 339.66,1228.69 344.01,1227.25 348.36,1225.83 352.71,1224.4 357.06,1222.99 361.41,1221.6 365.75,1220.22 370.1,1218.85 374.45,1217.52 378.8,1216.2 383.15,1214.91 387.5,1213.66 391.85,1212.44 396.19,1211.25 400.54,1210.1 404.89,1209 409.24,1207.94 413.59,1206.93 417.94,1205.97 422.29,1205.07 426.63,1204.22 430.98,1203.43 435.33,1202.69 439.68,1202 444.03,1201.36 448.38,1200.78 452.73,1200.24 457.07,1199.75 461.42,1199.3 465.77,1198.9 470.12,1198.55 474.47,1198.23 478.82,1197.95 483.17,1197.71 487.51,1197.51 491.86,1197.35 496.21,1197.21 500.56,1197.11 504.91,1197.05 509.26,1197.01 513.61,1197 517.95,1197.02 522.3,1197.06 526.65,1197.13 531,1197.22 535.35,1197.33 539.7,1197.46 544.05,1197.61 548.39,1197.77 552.74,1197.96 557.09,1198.15 561.44,1198.36 565.79,1198.58 570.14,1198.81 574.49,1199.05 578.83,1199.3 583.18,1199.55 587.53,1199.81 591.88,1200.07 596.23,1200.33" fill="none" stroke="#B177DE" stroke-width="3.75" stroke-linejoin="round" stroke-dasharray="13.2 10.3 3 10.3 3 10.3"/>
<polygon points="161.37,1263.18 169.17,1270.98 161.37,1278.78 153.57,1270.98" fill="#B177DE"/>
<polygon points="283.13,1238.62 290.93,1246.42 283.13,1254.22 275.33,1246.42" fill="#B177DE"/>
<polygon points="422.29,1197.27 430.09,1205.07 422.29,1212.87 414.49,1205.07" fill="#B177DE"/>
<polygon points="596.23,1192.53 604.03,1200.33 596.23,1208.13 588.43,1200.33" fill="#B177DE"/>
<polyline points="161.37,1193.87 165.72,1192.04 170.07,1190.21 174.42,1188.39 178.77,1186.58 183.11,1184.78 187.46,1183 191.81,1181.25 196.16,1179.51 200.51,1177.8 204.86,1176.13 209.21,1174.48 213.55,1172.88 217.9,1171.32 222.25,1169.8 226.6,1168.32 230.95,1166.9 235.3,1165.54 239.65,1164.23 243.99,1162.98 248.34,1161.8 252.69,1160.69 257.04,1159.65 261.39,1158.68 265.74,1157.79 270.09,1156.99 274.43,1156.27 278.78,1155.63 283.13,1155.09 287.48,1154.65 291.83,1154.3 296.18,1154.03 300.53,1153.85 304.87,1153.74 309.22,1153.71 313.57,1153.75 317.92,1153.86 322.27,1154.03 326.62,1154.25 330.97,1154.53 335.31,1154.86 339.66,1155.24 344.01,1155.66 348.36,1156.11 352.71,1156.6 357.06,1157.11 361.41,1157.65 365.75,1158.21 370.1,1158.79 374.45,1159.38 378.8,1159.97 383.15,1160.57 387.5,1161.17 391.85,1161.76 396.19,1162.35 400.54,1162.92 404.89,1163.47 409.24,1164.01 413.59,1164.51 417.94,1164.99 422.29,1165.43 426.63,1165.84 430.98,1166.21 435.33,1166.54 439.68,1166.84 444.03,1167.1 448.38,1167.33 452.73,1167.52 457.07,1167.69 461.42,1167.82 465.77,1167.92 470.12,1168 474.47,1168.05 478.82,1168.07 483.17,1168.06 487.51,1168.03 491.86,1167.98 496.21,1167.9 500.56,1167.8 504.91,1167.68 509.26,1167.54 513.61,1167.38 517.95,1167.2 522.3,1167.01 526.65,1166.8 531,1166.57 535.35,1166.33 539.7,1166.08 544.05,1165.81 548.39,1165.53 552.74,1165.24 557.09,1164.94 561.44,1164.64 565.79,1164.32 570.14,1164 574.49,1163.68 578.83,1163.34 583.18,1163.01 587.53,1162.67 591.88,1162.33 596.23,1161.99" fill="none" stroke="#CC9900" stroke-width="3.75" stroke-linejoin="round" stroke-dasharray="5.6 9.5"/>
<polygon points="161.37,1186.47 163.43,1191.64 168.98,1191.99 164.7,1195.55 166.07,1200.94 161.37,1197.97 156.67,1200.94 158.04,1195.55 153.76,1191.99 159.31,1191.64" fill="#CC9900"/>
<polygon points="283.13,1147.69 285.19,1152.86 290.74,1153.22 286.46,1156.78 287.83,1162.17 283.13,1159.19 278.43,1162.17 279.8,1156.78 275.52,1153.22 281.07,1152.86" fill="#CC9900"/>
<polygon points="422.29,1158.03 424.34,1163.2 429.89,1163.56 425.61,1167.12 426.99,1172.51 422.29,1169.53 417.58,1172.51 418.96,1167.12 414.68,1163.56 420.23,1163.2" fill="#CC9900"/>
<polygon points="596.23,1154.59 598.29,1159.76 603.84,1160.12 599.56,1163.67 600.93,1169.06 596.23,1166.09 591.53,1169.06 592.9,1163.67 588.62,1160.12 594.17,1159.76" fill="#CC9900"/>
<g stroke="#000" fill="none">
<path d="M74.4 797.1V1292.35H683.2" stroke-width="4.2" stroke-linecap="square"/>
<path d="M74.4 1292.35v9.8M161.37 1292.35v9.8M248.34 1292.35v9.8M335.31 1292.35v9.8M422.29 1292.35v9.8M509.26 1292.35v9.8M596.23 1292.35v9.8M683.2 1292.35v9.8M117.89 1292.35v4.9M204.86 1292.35v4.9M291.83 1292.35v4.9M378.8 1292.35v4.9M465.77 1292.35v4.9M552.74 1292.35v4.9M639.71 1292.35v4.9M74.4 1227.9h-9.8M74.4 1141.74h-9.8M74.4 1055.58h-9.8M74.4 969.42h-9.8M74.4 883.26h-9.8M74.4 797.1h-9.8M74.4 1270.98h-4.9M74.4 1184.82h-4.9M74.4 1098.66h-4.9M74.4 1012.5h-4.9M74.4 926.34h-4.9M74.4 840.18h-4.9" stroke-width="4.0"/>
</g>
<text transform="translate(74.4 1330.75) scale(0.935 1)" font-size="28.24" text-anchor="middle">10.0</text>
<text transform="translate(161.37 1330.75) scale(0.935 1)" font-size="28.24" text-anchor="middle">12.5</text>
<text transform="translate(248.34 1330.75) scale(0.935 1)" font-size="28.24" text-anchor="middle">15.0</text>
<text transform="translate(335.31 1330.75) scale(0.935 1)" font-size="28.24" text-anchor="middle">17.5</text>
<text transform="translate(422.29 1330.75) scale(0.935 1)" font-size="28.24" text-anchor="middle">20.0</text>
<text transform="translate(509.26 1330.75) scale(0.935 1)" font-size="28.24" text-anchor="middle">22.5</text>
<text transform="translate(596.23 1330.75) scale(0.935 1)" font-size="28.24" text-anchor="middle">25.0</text>
<text transform="translate(683.2 1330.75) scale(0.935 1)" font-size="28.24" text-anchor="middle">27.5</text>
<text transform="translate(57.4 1236.44) scale(0.935 1)" font-size="28.24" text-anchor="end">2</text>
<text transform="translate(57.4 1150.28) scale(0.935 1)" font-size="28.24" text-anchor="end">4</text>
<text transform="translate(57.4 1064.12) scale(0.935 1)" font-size="28.24" text-anchor="end">6</text>
<text transform="translate(57.4 977.96) scale(0.935 1)" font-size="28.24" text-anchor="end">8</text>
<text transform="translate(57.4 891.8) scale(0.935 1)" font-size="28.24" text-anchor="end">10</text>
<text transform="translate(57.4 805.64) scale(0.935 1)" font-size="28.24" text-anchor="end">12</text>
<text transform="translate(378.9 1376.9) scale(0.935 1)" font-size="29.95" text-anchor="middle">2γ</text>
<text transform="translate(19.8 1044.4) rotate(-90) scale(0.935 1)" font-size="30.37" text-anchor="middle">SCF</text>
<text transform="translate(390.1 1465.3) scale(0.98 1)" font-size="44.39" text-anchor="middle">(c)Line C</text>
<g>
<path d="M179.6 821.2H231.1" fill="none" stroke="#515151" stroke-width="3.75" stroke-linejoin="round"/>
<polygon points="205.4,813.26 198,826.06 212.8,826.06" fill="#515151"/>
<text transform="translate(236.6 829.19) scale(0.935 1)" font-size="25.13">β=0.55,τ=0.25</text>
<path d="M179.6 852.8H231.1" fill="none" stroke="#F14040" stroke-width="3.75" stroke-linejoin="round"/>
<rect x="199.6" y="847" width="11.6" height="11.6" fill="#F14040"/>
<text transform="translate(236.6 860.79) scale(0.935 1)" font-size="25.13">β=0.55,τ=0.50</text>
<path d="M179.6 884.4H231.1" fill="none" stroke="#1A6FDF" stroke-width="3.75" stroke-linejoin="round"/>
<circle cx="205.4" cy="884.4" r="6.5" fill="#1A6FDF"/>
<text transform="translate(236.6 892.39) scale(0.935 1)" font-size="25.13">β=0.55,τ=1.00</text>
<path d="M179.6 916H231.1" fill="none" stroke="#37AD6B" stroke-width="3.75" stroke-linejoin="round" stroke-dasharray="17 11.3 3 11.3"/>
<polygon points="205.4,908.9 211.55,912.45 211.55,919.55 205.4,923.1 199.25,919.55 199.25,912.45" fill="#37AD6B"/>
<text transform="translate(236.6 923.99) scale(0.935 1)" font-size="25.13">β=0.85,τ=0.25</text>
<path d="M179.6 947.6H231.1" fill="none" stroke="#B177DE" stroke-width="3.75" stroke-linejoin="round" stroke-dasharray="13.2 10.3 3 10.3 3 10.3"/>
<polygon points="205.4,939.8 213.2,947.6 205.4,955.4 197.6,947.6" fill="#B177DE"/>
<text transform="translate(236.6 955.59) scale(0.935 1)" font-size="25.13">β=0.85,τ=0.50</text>
<path d="M179.6 979.2H231.1" fill="none" stroke="#CC9900" stroke-width="3.75" stroke-linejoin="round" stroke-dasharray="5.6 9.5"/>
<polygon points="205.4,971.8 207.46,976.97 213.01,977.33 208.73,980.88 210.1,986.27 205.4,983.3 200.7,986.27 202.07,980.88 197.79,977.33 203.34,976.97" fill="#CC9900"/>
<text transform="translate(236.6 987.19) scale(0.935 1)" font-size="25.13">β=0.85,τ=1.00</text>
</g>
</g>
<g id="chart-d">
<polyline points="1109.24,1255.19 1113.59,1253.9 1117.94,1252.6 1122.28,1251.31 1126.63,1250.02 1130.98,1248.74 1135.33,1247.45 1139.67,1246.16 1144.02,1244.88 1148.37,1243.6 1152.71,1242.32 1157.06,1241.05 1161.41,1239.78 1165.76,1238.51 1170.1,1237.25 1174.45,1236 1178.8,1234.74 1183.14,1233.5 1187.49,1232.25 1191.84,1231.02 1196.19,1229.79 1200.53,1228.57 1204.88,1227.35 1209.23,1226.14 1213.57,1224.94 1217.92,1223.74 1222.27,1222.56 1226.62,1221.38 1230.96,1220.21 1235.31,1219.05 1239.66,1217.9 1244,1216.76 1248.35,1215.63 1252.7,1214.5 1257.05,1213.37 1261.39,1212.26 1265.74,1211.14 1270.09,1210.03 1274.43,1208.93 1278.78,1207.83 1283.13,1206.73 1287.48,1205.63 1291.82,1204.53 1296.17,1203.43 1300.52,1202.33 1304.86,1201.23 1309.21,1200.13 1313.56,1199.03 1317.91,1197.92 1322.25,1196.81 1326.6,1195.7 1330.95,1194.58 1335.29,1193.46 1339.64,1192.33 1343.99,1191.19 1348.34,1190.05 1352.68,1188.9 1357.03,1187.74 1361.38,1186.57 1365.72,1185.39 1370.07,1184.2 1374.42,1182.99 1378.77,1181.78 1383.11,1180.56 1387.46,1179.33 1391.81,1178.08 1396.15,1176.83 1400.5,1175.57 1404.85,1174.3 1409.2,1173.02 1413.54,1171.73 1417.89,1170.43 1422.24,1169.13 1426.58,1167.81 1430.93,1166.49 1435.28,1165.17 1439.63,1163.83 1443.97,1162.49 1448.32,1161.14 1452.67,1159.79 1457.01,1158.43 1461.36,1157.06 1465.71,1155.69 1470.06,1154.32 1474.4,1152.93 1478.75,1151.55 1483.1,1150.16 1487.44,1148.77 1491.79,1147.37 1496.14,1145.97 1500.49,1144.57 1504.83,1143.16 1509.18,1141.75 1513.53,1140.34 1517.87,1138.93 1522.22,1137.52 1526.57,1136.1 1530.92,1134.68 1535.26,1133.27 1539.61,1131.85 1543.96,1130.43" fill="none" stroke="#515151" stroke-width="3.75" stroke-linejoin="round"/>
<polygon points="1109.24,1247.25 1101.84,1260.05 1116.64,1260.05" fill="#515151"/>
<polygon points="1230.96,1212.28 1223.56,1225.08 1238.36,1225.08" fill="#515151"/>
<polygon points="1370.07,1176.26 1362.67,1189.06 1377.47,1189.06" fill="#515151"/>
<polygon points="1543.96,1122.49 1536.56,1135.29 1551.36,1135.29" fill="#515151"/>
<polyline points="1109.24,1242.66 1113.59,1241.43 1117.94,1240.2 1122.28,1238.97 1126.63,1237.75 1130.98,1236.52 1135.33,1235.29 1139.67,1234.06 1144.02,1232.83 1148.37,1231.6 1152.71,1230.37 1157.06,1229.14 1161.41,1227.91 1165.76,1226.68 1170.1,1225.45 1174.45,1224.22 1178.8,1222.99 1183.14,1221.76 1187.49,1220.53 1191.84,1219.3 1196.19,1218.07 1200.53,1216.84 1204.88,1215.61 1209.23,1214.37 1213.57,1213.14 1217.92,1211.91 1222.27,1210.68 1226.62,1209.44 1230.96,1208.21 1235.31,1206.97 1239.66,1205.74 1244,1204.5 1248.35,1203.26 1252.7,1202.02 1257.05,1200.78 1261.39,1199.53 1265.74,1198.28 1270.09,1197.02 1274.43,1195.76 1278.78,1194.49 1283.13,1193.22 1287.48,1191.94 1291.82,1190.65 1296.17,1189.36 1300.52,1188.06 1304.86,1186.74 1309.21,1185.42 1313.56,1184.09 1317.91,1182.75 1322.25,1181.4 1326.6,1180.04 1330.95,1178.66 1335.29,1177.27 1339.64,1175.87 1343.99,1174.46 1348.34,1173.03 1352.68,1171.59 1357.03,1170.13 1361.38,1168.66 1365.72,1167.17 1370.07,1165.67 1374.42,1164.14 1378.77,1162.6 1383.11,1161.05 1387.46,1159.48 1391.81,1157.89 1396.15,1156.29 1400.5,1154.67 1404.85,1153.04 1409.2,1151.4 1413.54,1149.74 1417.89,1148.07 1422.24,1146.39 1426.58,1144.69 1430.93,1142.99 1435.28,1141.27 1439.63,1139.54 1443.97,1137.8 1448.32,1136.06 1452.67,1134.3 1457.01,1132.53 1461.36,1130.76 1465.71,1128.97 1470.06,1127.18 1474.4,1125.39 1478.75,1123.58 1483.1,1121.77 1487.44,1119.95 1491.79,1118.13 1496.14,1116.3 1500.49,1114.47 1504.83,1112.63 1509.18,1110.79 1513.53,1108.95 1517.87,1107.1 1522.22,1105.25 1526.57,1103.4 1530.92,1101.54 1535.26,1099.69 1539.61,1097.83 1543.96,1095.98" fill="none" stroke="#F14040" stroke-width="3.75" stroke-linejoin="round"/>
<rect x="1103.44" y="1236.86" width="11.6" height="11.6" fill="#F14040"/>
<rect x="1225.16" y="1202.41" width="11.6" height="11.6" fill="#F14040"/>
<rect x="1364.27" y="1159.87" width="11.6" height="11.6" fill="#F14040"/>
<rect x="1538.16" y="1090.18" width="11.6" height="11.6" fill="#F14040"/>
<polyline points="1109.24,1197.77 1113.59,1196.44 1117.94,1195.12 1122.28,1193.8 1126.63,1192.48 1130.98,1191.16 1135.33,1189.85 1139.67,1188.54 1144.02,1187.23 1148.37,1185.93 1152.71,1184.63 1157.06,1183.34 1161.41,1182.05 1165.76,1180.77 1170.1,1179.5 1174.45,1178.24 1178.8,1176.98 1183.14,1175.73 1187.49,1174.5 1191.84,1173.27 1196.19,1172.06 1200.53,1170.85 1204.88,1169.66 1209.23,1168.48 1213.57,1167.32 1217.92,1166.16 1222.27,1165.03 1226.62,1163.9 1230.96,1162.79 1235.31,1161.7 1239.66,1160.62 1244,1159.56 1248.35,1158.51 1252.7,1157.47 1257.05,1156.44 1261.39,1155.43 1265.74,1154.42 1270.09,1153.42 1274.43,1152.43 1278.78,1151.44 1283.13,1150.46 1287.48,1149.48 1291.82,1148.51 1296.17,1147.54 1300.52,1146.57 1304.86,1145.6 1309.21,1144.63 1313.56,1143.65 1317.91,1142.68 1322.25,1141.7 1326.6,1140.72 1330.95,1139.73 1335.29,1138.74 1339.64,1137.73 1343.99,1136.72 1348.34,1135.7 1352.68,1134.67 1357.03,1133.63 1361.38,1132.58 1365.72,1131.51 1370.07,1130.43 1374.42,1129.33 1378.77,1128.22 1383.11,1127.1 1387.46,1125.96 1391.81,1124.8 1396.15,1123.64 1400.5,1122.46 1404.85,1121.26 1409.2,1120.06 1413.54,1118.84 1417.89,1117.62 1422.24,1116.38 1426.58,1115.13 1430.93,1113.87 1435.28,1112.6 1439.63,1111.32 1443.97,1110.03 1448.32,1108.73 1452.67,1107.43 1457.01,1106.11 1461.36,1104.79 1465.71,1103.47 1470.06,1102.13 1474.4,1100.79 1478.75,1099.44 1483.1,1098.09 1487.44,1096.73 1491.79,1095.36 1496.14,1094 1500.49,1092.62 1504.83,1091.25 1509.18,1089.87 1513.53,1088.48 1517.87,1087.1 1522.22,1085.71 1526.57,1084.32 1530.92,1082.93 1535.26,1081.54 1539.61,1080.15 1543.96,1078.75" fill="none" stroke="#1A6FDF" stroke-width="3.75" stroke-linejoin="round"/>
<circle cx="1109.24" cy="1197.77" r="6.5" fill="#1A6FDF"/>
<circle cx="1230.96" cy="1162.79" r="6.5" fill="#1A6FDF"/>
<circle cx="1370.07" cy="1130.43" r="6.5" fill="#1A6FDF"/>
<circle cx="1543.96" cy="1078.75" r="6.5" fill="#1A6FDF"/>
<polyline points="1109.24,1279.2 1113.59,1278.76 1117.94,1278.33 1122.28,1277.89 1126.63,1277.45 1130.98,1277.02 1135.33,1276.58 1139.67,1276.14 1144.02,1275.7 1148.37,1275.26 1152.71,1274.82 1157.06,1274.38 1161.41,1273.94 1165.76,1273.5 1170.1,1273.05 1174.45,1272.61 1178.8,1272.16 1183.14,1271.71 1187.49,1271.26 1191.84,1270.81 1196.19,1270.36 1200.53,1269.91 1204.88,1269.45 1209.23,1268.99 1213.57,1268.53 1217.92,1268.07 1222.27,1267.61 1226.62,1267.14 1230.96,1266.67 1235.31,1266.2 1239.66,1265.73 1244,1265.25 1248.35,1264.78 1252.7,1264.3 1257.05,1263.83 1261.39,1263.35 1265.74,1262.87 1270.09,1262.4 1274.43,1261.92 1278.78,1261.45 1283.13,1260.98 1287.48,1260.51 1291.82,1260.05 1296.17,1259.58 1300.52,1259.12 1304.86,1258.67 1309.21,1258.22 1313.56,1257.77 1317.91,1257.33 1322.25,1256.9 1326.6,1256.47 1330.95,1256.04 1335.29,1255.63 1339.64,1255.22 1343.99,1254.81 1348.34,1254.42 1352.68,1254.03 1357.03,1253.66 1361.38,1253.29 1365.72,1252.93 1370.07,1252.58 1374.42,1252.24 1378.77,1251.91 1383.11,1251.59 1387.46,1251.28 1391.81,1250.98 1396.15,1250.69 1400.5,1250.4 1404.85,1250.13 1409.2,1249.86 1413.54,1249.6 1417.89,1249.35 1422.24,1249.1 1426.58,1248.87 1430.93,1248.64 1435.28,1248.41 1439.63,1248.2 1443.97,1247.98 1448.32,1247.78 1452.67,1247.58 1457.01,1247.38 1461.36,1247.19 1465.71,1247.01 1470.06,1246.83 1474.4,1246.65 1478.75,1246.48 1483.1,1246.32 1487.44,1246.15 1491.79,1245.99 1496.14,1245.83 1500.49,1245.68 1504.83,1245.53 1509.18,1245.38 1513.53,1245.23 1517.87,1245.08 1522.22,1244.94 1526.57,1244.79 1530.92,1244.65 1535.26,1244.51 1539.61,1244.37 1543.96,1244.23" fill="none" stroke="#37AD6B" stroke-width="3.75" stroke-linejoin="round" stroke-dasharray="17 11.3 3 11.3"/>
<polygon points="1109.24,1272.1 1115.39,1275.65 1115.39,1282.75 1109.24,1286.3 1103.09,1282.75 1103.09,1275.65" fill="#37AD6B"/>
<polygon points="1230.96,1259.57 1237.11,1263.12 1237.11,1270.22 1230.96,1273.77 1224.81,1270.22 1224.81,1263.12" fill="#37AD6B"/>
<polygon points="1370.07,1245.48 1376.22,1249.03 1376.22,1256.13 1370.07,1259.68 1363.92,1256.13 1363.92,1249.03" fill="#37AD6B"/>
<polygon points="1543.96,1237.13 1550.11,1240.68 1550.11,1247.78 1543.96,1251.33 1537.81,1247.78 1537.81,1240.68" fill="#37AD6B"/>
<polyline points="1109.24,1270.33 1113.59,1269.45 1117.94,1268.58 1122.28,1267.71 1126.63,1266.85 1130.98,1265.99 1135.33,1265.13 1139.67,1264.28 1144.02,1263.44 1148.37,1262.61 1152.71,1261.79 1157.06,1260.97 1161.41,1260.18 1165.76,1259.39 1170.1,1258.62 1174.45,1257.86 1178.8,1257.12 1183.14,1256.4 1187.49,1255.7 1191.84,1255.02 1196.19,1254.36 1200.53,1253.72 1204.88,1253.11 1209.23,1252.51 1213.57,1251.95 1217.92,1251.41 1222.27,1250.9 1226.62,1250.42 1230.96,1249.97 1235.31,1249.55 1239.66,1249.16 1244,1248.79 1248.35,1248.46 1252.7,1248.14 1257.05,1247.86 1261.39,1247.59 1265.74,1247.34 1270.09,1247.11 1274.43,1246.9 1278.78,1246.7 1283.13,1246.52 1287.48,1246.35 1291.82,1246.18 1296.17,1246.03 1300.52,1245.88 1304.86,1245.74 1309.21,1245.61 1313.56,1245.47 1317.91,1245.34 1322.25,1245.2 1326.6,1245.06 1330.95,1244.92 1335.29,1244.77 1339.64,1244.62 1343.99,1244.45 1348.34,1244.28 1352.68,1244.09 1357.03,1243.89 1361.38,1243.67 1365.72,1243.44 1370.07,1243.18 1374.42,1242.91 1378.77,1242.62 1383.11,1242.3 1387.46,1241.97 1391.81,1241.62 1396.15,1241.25 1400.5,1240.87 1404.85,1240.47 1409.2,1240.05 1413.54,1239.62 1417.89,1239.17 1422.24,1238.7 1426.58,1238.22 1430.93,1237.73 1435.28,1237.23 1439.63,1236.71 1443.97,1236.18 1448.32,1235.64 1452.67,1235.08 1457.01,1234.52 1461.36,1233.95 1465.71,1233.36 1470.06,1232.77 1474.4,1232.17 1478.75,1231.56 1483.1,1230.94 1487.44,1230.32 1491.79,1229.68 1496.14,1229.05 1500.49,1228.4 1504.83,1227.76 1509.18,1227.1 1513.53,1226.45 1517.87,1225.79 1522.22,1225.12 1526.57,1224.46 1530.92,1223.79 1535.26,1223.12 1539.61,1222.45 1543.96,1221.78" fill="none" stroke="#B177DE" stroke-width="3.75" stroke-linejoin="round" stroke-dasharray="13.2 10.3 3 10.3 3 10.3"/>
<polygon points="1109.24,1262.53 1117.04,1270.33 1109.24,1278.13 1101.44,1270.33" fill="#B177DE"/>
<polygon points="1230.96,1242.17 1238.76,1249.97 1230.96,1257.77 1223.16,1249.97" fill="#B177DE"/>
<polygon points="1370.07,1235.38 1377.87,1243.18 1370.07,1250.98 1362.27,1243.18" fill="#B177DE"/>
<polygon points="1543.96,1213.98 1551.76,1221.78 1543.96,1229.58 1536.16,1221.78" fill="#B177DE"/>
<polyline points="1109.24,1225.96 1113.59,1225.31 1117.94,1224.67 1122.28,1224.04 1126.63,1223.4 1130.98,1222.77 1135.33,1222.15 1139.67,1221.53 1144.02,1220.92 1148.37,1220.31 1152.71,1219.72 1157.06,1219.14 1161.41,1218.56 1165.76,1218.01 1170.1,1217.46 1174.45,1216.93 1178.8,1216.42 1183.14,1215.92 1187.49,1215.44 1191.84,1214.98 1196.19,1214.54 1200.53,1214.12 1204.88,1213.72 1209.23,1213.35 1213.57,1213 1217.92,1212.67 1222.27,1212.37 1226.62,1212.1 1230.96,1211.86 1235.31,1211.65 1239.66,1211.46 1244,1211.31 1248.35,1211.17 1252.7,1211.06 1257.05,1210.97 1261.39,1210.91 1265.74,1210.86 1270.09,1210.82 1274.43,1210.81 1278.78,1210.81 1283.13,1210.82 1287.48,1210.84 1291.82,1210.87 1296.17,1210.91 1300.52,1210.96 1304.86,1211.01 1309.21,1211.06 1313.56,1211.12 1317.91,1211.18 1322.25,1211.23 1326.6,1211.29 1330.95,1211.34 1335.29,1211.38 1339.64,1211.42 1343.99,1211.44 1348.34,1211.46 1352.68,1211.47 1357.03,1211.46 1361.38,1211.44 1365.72,1211.4 1370.07,1211.34 1374.42,1211.26 1378.77,1211.17 1383.11,1211.05 1387.46,1210.92 1391.81,1210.77 1396.15,1210.61 1400.5,1210.42 1404.85,1210.23 1409.2,1210.01 1413.54,1209.78 1417.89,1209.54 1422.24,1209.28 1426.58,1209.01 1430.93,1208.72 1435.28,1208.42 1439.63,1208.11 1443.97,1207.79 1448.32,1207.46 1452.67,1207.12 1457.01,1206.76 1461.36,1206.4 1465.71,1206.03 1470.06,1205.65 1474.4,1205.26 1478.75,1204.86 1483.1,1204.45 1487.44,1204.04 1491.79,1203.62 1496.14,1203.2 1500.49,1202.77 1504.83,1202.34 1509.18,1201.9 1513.53,1201.45 1517.87,1201.01 1522.22,1200.56 1526.57,1200.11 1530.92,1199.66 1535.26,1199.2 1539.61,1198.75 1543.96,1198.29" fill="none" stroke="#CC9900" stroke-width="3.75" stroke-linejoin="round" stroke-dasharray="5.6 9.5"/>
<polygon points="1109.24,1218.56 1111.3,1223.72 1116.85,1224.08 1112.57,1227.64 1113.95,1233.03 1109.24,1230.06 1104.54,1233.03 1105.91,1227.64 1101.63,1224.08 1107.19,1223.72" fill="#CC9900"/>
<polygon points="1230.96,1204.46 1233.02,1209.63 1238.57,1209.99 1234.29,1213.54 1235.67,1218.93 1230.96,1215.96 1226.26,1218.93 1227.63,1213.54 1223.35,1209.99 1228.91,1209.63" fill="#CC9900"/>
<polygon points="1370.07,1203.94 1372.13,1209.11 1377.68,1209.47 1373.4,1213.02 1374.77,1218.41 1370.07,1215.44 1365.37,1218.41 1366.74,1213.02 1362.46,1209.47 1368.01,1209.11" fill="#CC9900"/>
<polygon points="1543.96,1190.89 1546.01,1196.06 1551.57,1196.42 1547.29,1199.97 1548.66,1205.36 1543.96,1202.39 1539.25,1205.36 1540.63,1199.97 1536.35,1196.42 1541.9,1196.06" fill="#CC9900"/>
<g stroke="#000" fill="none">
<path d="M1022.3 796.45V1292.35H1630.9" stroke-width="4.2" stroke-linecap="square"/>
<path d="M1022.3 1292.35v9.8M1109.24 1292.35v9.8M1196.19 1292.35v9.8M1283.13 1292.35v9.8M1370.07 1292.35v9.8M1457.01 1292.35v9.8M1543.96 1292.35v9.8M1630.9 1292.35v9.8M1065.77 1292.35v4.9M1152.71 1292.35v4.9M1239.66 1292.35v4.9M1326.6 1292.35v4.9M1413.54 1292.35v4.9M1500.49 1292.35v4.9M1587.43 1292.35v4.9M1022.3 1266.15h-9.8M1022.3 1213.95h-9.8M1022.3 1161.75h-9.8M1022.3 1109.55h-9.8M1022.3 1057.35h-9.8M1022.3 1005.15h-9.8M1022.3 952.95h-9.8M1022.3 900.75h-9.8M1022.3 848.55h-9.8M1022.3 796.35h-9.8M1022.3 1292.25h-4.9M1022.3 1240.05h-4.9M1022.3 1187.85h-4.9M1022.3 1135.65h-4.9M1022.3 1083.45h-4.9M1022.3 1031.25h-4.9M1022.3 979.05h-4.9M1022.3 926.85h-4.9M1022.3 874.65h-4.9M1022.3 822.45h-4.9" stroke-width="4.0"/>
</g>
<text transform="translate(1022.3 1330.9) scale(0.935 1)" font-size="28.24" text-anchor="middle">10.0</text>
<text transform="translate(1109.24 1330.9) scale(0.935 1)" font-size="28.24" text-anchor="middle">12.5</text>
<text transform="translate(1196.19 1330.9) scale(0.935 1)" font-size="28.24" text-anchor="middle">15.0</text>
<text transform="translate(1283.13 1330.9) scale(0.935 1)" font-size="28.24" text-anchor="middle">17.5</text>
<text transform="translate(1370.07 1330.9) scale(0.935 1)" font-size="28.24" text-anchor="middle">20.0</text>
<text transform="translate(1457.01 1330.9) scale(0.935 1)" font-size="28.24" text-anchor="middle">22.5</text>
<text transform="translate(1543.96 1330.9) scale(0.935 1)" font-size="28.24" text-anchor="middle">25.0</text>
<text transform="translate(1630.9 1330.9) scale(0.935 1)" font-size="28.24" text-anchor="middle">27.5</text>
<text transform="translate(1005.3 1274.69) scale(0.935 1)" font-size="28.24" text-anchor="end">1</text>
<text transform="translate(1005.3 1222.49) scale(0.935 1)" font-size="28.24" text-anchor="end">2</text>
<text transform="translate(1005.3 1170.29) scale(0.935 1)" font-size="28.24" text-anchor="end">3</text>
<text transform="translate(1005.3 1118.09) scale(0.935 1)" font-size="28.24" text-anchor="end">4</text>
<text transform="translate(1005.3 1065.89) scale(0.935 1)" font-size="28.24" text-anchor="end">5</text>
<text transform="translate(1005.3 1013.69) scale(0.935 1)" font-size="28.24" text-anchor="end">6</text>
<text transform="translate(1005.3 961.49) scale(0.935 1)" font-size="28.24" text-anchor="end">7</text>
<text transform="translate(1005.3 909.29) scale(0.935 1)" font-size="28.24" text-anchor="end">8</text>
<text transform="translate(1005.3 857.09) scale(0.935 1)" font-size="28.24" text-anchor="end">9</text>
<text transform="translate(1005.3 804.89) scale(0.935 1)" font-size="28.24" text-anchor="end">10</text>
<text transform="translate(1327 1376.9) scale(0.935 1)" font-size="29.95" text-anchor="middle">2γ</text>
<text transform="translate(968 1044.6) rotate(-90) scale(0.935 1)" font-size="30.37" text-anchor="middle">SCF</text>
<text transform="translate(1326.7 1465.3) scale(0.98 1)" font-size="44.39" text-anchor="middle">(d)Line D</text>
<g>
<path d="M1088 821.7H1139.25" fill="none" stroke="#515151" stroke-width="3.75" stroke-linejoin="round"/>
<polygon points="1113.25,813.76 1105.85,826.56 1120.65,826.56" fill="#515151"/>
<text transform="translate(1144.6 829.76) scale(0.935 1)" font-size="25.35">β=0.55,τ=0.25</text>
<path d="M1088 853.4H1139.25" fill="none" stroke="#F14040" stroke-width="3.75" stroke-linejoin="round"/>
<rect x="1107.45" y="847.6" width="11.6" height="11.6" fill="#F14040"/>
<text transform="translate(1144.6 861.46) scale(0.935 1)" font-size="25.35">β=0.55,τ=0.50</text>
<path d="M1088 885.1H1139.25" fill="none" stroke="#1A6FDF" stroke-width="3.75" stroke-linejoin="round"/>
<circle cx="1113.25" cy="885.1" r="6.5" fill="#1A6FDF"/>
<text transform="translate(1144.6 893.16) scale(0.935 1)" font-size="25.35">β=0.55,τ=1.00</text>
<path d="M1088 916.8H1139.25" fill="none" stroke="#37AD6B" stroke-width="3.75" stroke-linejoin="round" stroke-dasharray="17 11.3 3 11.3"/>
<polygon points="1113.25,909.7 1119.4,913.25 1119.4,920.35 1113.25,923.9 1107.1,920.35 1107.1,913.25" fill="#37AD6B"/>
<text transform="translate(1144.6 924.86) scale(0.935 1)" font-size="25.35">β=0.85,τ=0.25</text>
<path d="M1088 948.5H1139.25" fill="none" stroke="#B177DE" stroke-width="3.75" stroke-linejoin="round" stroke-dasharray="13.2 10.3 3 10.3 3 10.3"/>
<polygon points="1113.25,940.7 1121.05,948.5 1113.25,956.3 1105.45,948.5" fill="#B177DE"/>
<text transform="translate(1144.6 956.56) scale(0.935 1)" font-size="25.35">β=0.85,τ=0.50</text>
<path d="M1088 980.2H1139.25" fill="none" stroke="#CC9900" stroke-width="3.75" stroke-linejoin="round" stroke-dasharray="5.6 9.5"/>
<polygon points="1113.25,972.8 1115.31,977.97 1120.86,978.33 1116.58,981.88 1117.95,987.27 1113.25,984.3 1108.55,987.27 1109.92,981.88 1105.64,978.33 1111.19,977.97" fill="#CC9900"/>
<text transform="translate(1144.6 988.26) scale(0.935 1)" font-size="25.35">β=0.85,τ=1.00</text>
</g>
</g>
<g id="chart-e">
<polyline points="652.9,2032.91 657.38,2031.6 661.85,2030.3 666.33,2028.98 670.8,2027.65 675.27,2026.31 679.75,2024.94 684.23,2023.56 688.7,2022.14 693.17,2020.69 697.65,2019.2 702.12,2017.67 706.6,2016.09 711.08,2014.47 715.55,2012.79 720.02,2011.06 724.5,2009.26 728.98,2007.4 733.45,2005.47 737.92,2003.46 742.4,2001.38 746.88,1999.21 751.35,1996.96 755.83,1994.61 760.3,1992.18 764.77,1989.64 769.25,1987 773.73,1984.26 778.2,1981.4 782.67,1978.43 787.15,1975.35 791.62,1972.17 796.1,1968.9 800.58,1965.54 805.05,1962.1 809.52,1958.59 814,1955.02 818.48,1951.38 822.95,1947.7 827.42,1943.97 831.9,1940.21 836.38,1936.41 840.85,1932.6 845.33,1928.77 849.8,1924.93 854.28,1921.09 858.75,1917.26 863.23,1913.44 867.7,1909.64 872.17,1905.87 876.65,1902.13 881.12,1898.44 885.6,1894.79 890.08,1891.2 894.55,1887.68 899.03,1884.23 903.5,1880.85 907.98,1877.56 912.45,1874.36 916.92,1871.26 921.4,1868.27 925.88,1865.39 930.35,1862.62 934.83,1859.95 939.3,1857.4 943.78,1854.94 948.25,1852.59 952.73,1850.33 957.2,1848.16 961.67,1846.09 966.15,1844.1 970.62,1842.2 975.1,1840.38 979.58,1838.64 984.05,1836.98 988.53,1835.39 993,1833.87 997.48,1832.42 1001.95,1831.03 1006.42,1829.71 1010.9,1828.45 1015.38,1827.24 1019.85,1826.09 1024.33,1824.99 1028.8,1823.94 1033.28,1822.93 1037.75,1821.97 1042.22,1821.04 1046.7,1820.16 1051.17,1819.3 1055.65,1818.48 1060.12,1817.69 1064.6,1816.92 1069.08,1816.17 1073.55,1815.45 1078.03,1814.74 1082.5,1814.04 1086.97,1813.36 1091.45,1812.68 1095.93,1812.02 1100.4,1811.35" fill="none" stroke="#515151" stroke-width="3.75" stroke-linejoin="round"/>
<polygon points="652.9,2024.97 645.5,2037.77 660.3,2037.77" fill="#515151"/>
<polygon points="778.2,1973.46 770.8,1986.26 785.6,1986.26" fill="#515151"/>
<polygon points="921.4,1860.33 914,1873.13 928.8,1873.13" fill="#515151"/>
<polygon points="1100.4,1803.41 1093,1816.21 1107.8,1816.21" fill="#515151"/>
<polyline points="652.9,2049.84 657.38,2047.92 661.85,2045.99 666.33,2044.06 670.8,2042.14 675.27,2040.22 679.75,2038.3 684.23,2036.38 688.7,2034.46 693.17,2032.54 697.65,2030.63 702.12,2028.73 706.6,2026.82 711.08,2024.92 715.55,2023.03 720.02,2021.14 724.5,2019.25 728.98,2017.37 733.45,2015.5 737.92,2013.63 742.4,2011.77 746.88,2009.92 751.35,2008.07 755.83,2006.23 760.3,2004.4 764.77,2002.57 769.25,2000.76 773.73,1998.95 778.2,1997.16 782.67,1995.37 787.15,1993.59 791.62,1991.82 796.1,1990.06 800.58,1988.3 805.05,1986.54 809.52,1984.79 814,1983.04 818.48,1981.3 822.95,1979.55 827.42,1977.8 831.9,1976.05 836.38,1974.3 840.85,1972.54 845.33,1970.78 849.8,1969.01 854.28,1967.24 858.75,1965.46 863.23,1963.66 867.7,1961.86 872.17,1960.05 876.65,1958.22 881.12,1956.39 885.6,1954.53 890.08,1952.66 894.55,1950.78 899.03,1948.88 903.5,1946.95 907.98,1945.01 912.45,1943.05 916.92,1941.07 921.4,1939.06 925.88,1937.03 930.35,1934.98 934.83,1932.91 939.3,1930.81 943.78,1928.69 948.25,1926.55 952.73,1924.39 957.2,1922.21 961.67,1920.02 966.15,1917.8 970.62,1915.56 975.1,1913.31 979.58,1911.05 984.05,1908.76 988.53,1906.46 993,1904.15 997.48,1901.82 1001.95,1899.48 1006.42,1897.12 1010.9,1894.75 1015.38,1892.37 1019.85,1889.98 1024.33,1887.58 1028.8,1885.17 1033.28,1882.75 1037.75,1880.32 1042.22,1877.88 1046.7,1875.43 1051.17,1872.98 1055.65,1870.52 1060.12,1868.05 1064.6,1865.58 1069.08,1863.1 1073.55,1860.62 1078.03,1858.14 1082.5,1855.65 1086.97,1853.16 1091.45,1850.67 1095.93,1848.18 1100.4,1845.69" fill="none" stroke="#F14040" stroke-width="3.75" stroke-linejoin="round"/>
<rect x="647.1" y="2044.04" width="11.6" height="11.6" fill="#F14040"/>
<rect x="772.4" y="1991.36" width="11.6" height="11.6" fill="#F14040"/>
<rect x="915.6" y="1933.26" width="11.6" height="11.6" fill="#F14040"/>
<rect x="1094.6" y="1839.89" width="11.6" height="11.6" fill="#F14040"/>
<polyline points="652.9,2092.65 657.38,2090.98 661.85,2089.31 666.33,2087.64 670.8,2085.96 675.27,2084.29 679.75,2082.61 684.23,2080.93 688.7,2079.24 693.17,2077.55 697.65,2075.86 702.12,2074.15 706.6,2072.44 711.08,2070.73 715.55,2069.01 720.02,2067.27 724.5,2065.53 728.98,2063.78 733.45,2062.02 737.92,2060.25 742.4,2058.47 746.88,2056.67 751.35,2054.87 755.83,2053.05 760.3,2051.21 764.77,2049.36 769.25,2047.5 773.73,2045.62 778.2,2043.73 782.67,2041.82 787.15,2039.89 791.62,2037.95 796.1,2036.01 800.58,2034.05 805.05,2032.09 809.52,2030.12 814,2028.15 818.48,2026.18 822.95,2024.22 827.42,2022.26 831.9,2020.3 836.38,2018.36 840.85,2016.42 845.33,2014.5 849.8,2012.59 854.28,2010.7 858.75,2008.83 863.23,2006.99 867.7,2005.16 872.17,2003.36 876.65,2001.59 881.12,1999.85 885.6,1998.14 890.08,1996.46 894.55,1994.82 899.03,1993.22 903.5,1991.66 907.98,1990.14 912.45,1988.67 916.92,1987.25 921.4,1985.87 925.88,1984.54 930.35,1983.26 934.83,1982.04 939.3,1980.86 943.78,1979.72 948.25,1978.63 952.73,1977.58 957.2,1976.58 961.67,1975.62 966.15,1974.69 970.62,1973.81 975.1,1972.96 979.58,1972.15 984.05,1971.37 988.53,1970.62 993,1969.91 997.48,1969.23 1001.95,1968.57 1006.42,1967.95 1010.9,1967.35 1015.38,1966.78 1019.85,1966.23 1024.33,1965.7 1028.8,1965.2 1033.28,1964.72 1037.75,1964.25 1042.22,1963.81 1046.7,1963.38 1051.17,1962.96 1055.65,1962.56 1060.12,1962.18 1064.6,1961.8 1069.08,1961.44 1073.55,1961.08 1078.03,1960.73 1082.5,1960.39 1086.97,1960.05 1091.45,1959.72 1095.93,1959.38 1100.4,1959.06" fill="none" stroke="#1A6FDF" stroke-width="3.75" stroke-linejoin="round"/>
<circle cx="652.9" cy="2092.65" r="6.5" fill="#1A6FDF"/>
<circle cx="778.2" cy="2043.73" r="6.5" fill="#1A6FDF"/>
<circle cx="921.4" cy="1985.87" r="6.5" fill="#1A6FDF"/>
<circle cx="1100.4" cy="1959.06" r="6.5" fill="#1A6FDF"/>
<polyline points="652.9,2077.13 657.38,2076.29 661.85,2075.45 666.33,2074.62 670.8,2073.78 675.27,2072.94 679.75,2072.1 684.23,2071.26 688.7,2070.42 693.17,2069.57 697.65,2068.73 702.12,2067.87 706.6,2067.02 711.08,2066.16 715.55,2065.3 720.02,2064.43 724.5,2063.56 728.98,2062.69 733.45,2061.81 737.92,2060.92 742.4,2060.03 746.88,2059.13 751.35,2058.23 755.83,2057.32 760.3,2056.4 764.77,2055.48 769.25,2054.55 773.73,2053.61 778.2,2052.66 782.67,2051.71 787.15,2050.75 791.62,2049.78 796.1,2048.8 800.58,2047.82 805.05,2046.83 809.52,2045.84 814,2044.85 818.48,2043.85 822.95,2042.84 827.42,2041.84 831.9,2040.83 836.38,2039.82 840.85,2038.81 845.33,2037.8 849.8,2036.79 854.28,2035.78 858.75,2034.78 863.23,2033.77 867.7,2032.77 872.17,2031.77 876.65,2030.77 881.12,2029.78 885.6,2028.79 890.08,2027.81 894.55,2026.84 899.03,2025.87 903.5,2024.91 907.98,2023.96 912.45,2023.01 916.92,2022.07 921.4,2021.15 925.88,2020.23 930.35,2019.32 934.83,2018.43 939.3,2017.54 943.78,2016.66 948.25,2015.79 952.73,2014.93 957.2,2014.07 961.67,2013.23 966.15,2012.39 970.62,2011.56 975.1,2010.74 979.58,2009.92 984.05,2009.11 988.53,2008.31 993,2007.51 997.48,2006.72 1001.95,2005.94 1006.42,2005.16 1010.9,2004.39 1015.38,2003.62 1019.85,2002.85 1024.33,2002.09 1028.8,2001.34 1033.28,2000.59 1037.75,1999.84 1042.22,1999.1 1046.7,1998.36 1051.17,1997.62 1055.65,1996.88 1060.12,1996.15 1064.6,1995.42 1069.08,1994.69 1073.55,1993.97 1078.03,1993.24 1082.5,1992.52 1086.97,1991.8 1091.45,1991.07 1095.93,1990.35 1100.4,1989.63" fill="none" stroke="#37AD6B" stroke-width="3.75" stroke-linejoin="round" stroke-dasharray="17.3 11.5 3 11.5"/>
<polygon points="652.9,2070.03 659.05,2073.58 659.05,2080.68 652.9,2084.23 646.75,2080.68 646.75,2073.58" fill="#37AD6B"/>
<polygon points="778.2,2045.56 784.35,2049.11 784.35,2056.21 778.2,2059.76 772.05,2056.21 772.05,2049.11" fill="#37AD6B"/>
<polygon points="921.4,2014.05 927.55,2017.6 927.55,2024.7 921.4,2028.25 915.25,2024.7 915.25,2017.6" fill="#37AD6B"/>
<polygon points="1100.4,1982.53 1106.55,1986.08 1106.55,1993.18 1100.4,1996.73 1094.25,1993.18 1094.25,1986.08" fill="#37AD6B"/>
<polyline points="652.9,2070.54 657.38,2070.2 661.85,2069.86 666.33,2069.52 670.8,2069.18 675.27,2068.83 679.75,2068.48 684.23,2068.12 688.7,2067.76 693.17,2067.39 697.65,2067.01 702.12,2066.62 706.6,2066.22 711.08,2065.82 715.55,2065.4 720.02,2064.97 724.5,2064.52 728.98,2064.06 733.45,2063.59 737.92,2063.1 742.4,2062.59 746.88,2062.07 751.35,2061.53 755.83,2060.97 760.3,2060.39 764.77,2059.78 769.25,2059.16 773.73,2058.51 778.2,2057.84 782.67,2057.14 787.15,2056.42 791.62,2055.68 796.1,2054.92 800.58,2054.13 805.05,2053.32 809.52,2052.5 814,2051.65 818.48,2050.79 822.95,2049.9 827.42,2049.01 831.9,2048.09 836.38,2047.16 840.85,2046.22 845.33,2045.26 849.8,2044.3 854.28,2043.31 858.75,2042.32 863.23,2041.32 867.7,2040.31 872.17,2039.29 876.65,2038.26 881.12,2037.23 885.6,2036.19 890.08,2035.14 894.55,2034.09 899.03,2033.03 903.5,2031.98 907.98,2030.92 912.45,2029.86 916.92,2028.79 921.4,2027.73 925.88,2026.67 930.35,2025.61 934.83,2024.56 939.3,2023.5 943.78,2022.44 948.25,2021.39 952.73,2020.33 957.2,2019.28 961.67,2018.23 966.15,2017.17 970.62,2016.12 975.1,2015.07 979.58,2014.02 984.05,2012.97 988.53,2011.93 993,2010.88 997.48,2009.83 1001.95,2008.78 1006.42,2007.74 1010.9,2006.69 1015.38,2005.65 1019.85,2004.61 1024.33,2003.56 1028.8,2002.52 1033.28,2001.48 1037.75,2000.43 1042.22,1999.39 1046.7,1998.35 1051.17,1997.31 1055.65,1996.27 1060.12,1995.23 1064.6,1994.19 1069.08,1993.15 1073.55,1992.11 1078.03,1991.07 1082.5,1990.03 1086.97,1988.99 1091.45,1987.95 1095.93,1986.91 1100.4,1985.87" fill="none" stroke="#B177DE" stroke-width="3.75" stroke-linejoin="round" stroke-dasharray="13 10.7 3 10.7 3 10.7"/>
<polygon points="652.9,2062.74 660.7,2070.54 652.9,2078.34 645.1,2070.54" fill="#B177DE"/>
<polygon points="778.2,2050.04 786,2057.84 778.2,2065.64 770.4,2057.84" fill="#B177DE"/>
<polygon points="921.4,2019.93 929.2,2027.73 921.4,2035.53 913.6,2027.73" fill="#B177DE"/>
<polygon points="1100.4,1978.07 1108.2,1985.87 1100.4,1993.67 1092.6,1985.87" fill="#B177DE"/>
<polyline points="652.9,2098.76 657.38,2098.1 661.85,2097.43 666.33,2096.76 670.8,2096.09 675.27,2095.41 679.75,2094.73 684.23,2094.03 688.7,2093.33 693.17,2092.62 697.65,2091.89 702.12,2091.15 706.6,2090.4 711.08,2089.63 715.55,2088.84 720.02,2088.04 724.5,2087.21 728.98,2086.36 733.45,2085.49 737.92,2084.6 742.4,2083.68 746.88,2082.73 751.35,2081.76 755.83,2080.75 760.3,2079.72 764.77,2078.65 769.25,2077.55 773.73,2076.42 778.2,2075.24 782.67,2074.04 787.15,2072.79 791.62,2071.52 796.1,2070.21 800.58,2068.88 805.05,2067.52 809.52,2066.14 814,2064.74 818.48,2063.33 822.95,2061.89 827.42,2060.45 831.9,2059 836.38,2057.54 840.85,2056.08 845.33,2054.62 849.8,2053.15 854.28,2051.69 858.75,2050.24 863.23,2048.79 867.7,2047.36 872.17,2045.94 876.65,2044.54 881.12,2043.15 885.6,2041.79 890.08,2040.45 894.55,2039.14 899.03,2037.86 903.5,2036.6 907.98,2035.39 912.45,2034.21 916.92,2033.07 921.4,2031.97 925.88,2030.91 930.35,2029.9 934.83,2028.93 939.3,2028 943.78,2027.12 948.25,2026.27 952.73,2025.46 957.2,2024.68 961.67,2023.95 966.15,2023.24 970.62,2022.57 975.1,2021.94 979.58,2021.33 984.05,2020.75 988.53,2020.21 993,2019.69 997.48,2019.19 1001.95,2018.73 1006.42,2018.28 1010.9,2017.86 1015.38,2017.47 1019.85,2017.09 1024.33,2016.74 1028.8,2016.4 1033.28,2016.08 1037.75,2015.78 1042.22,2015.49 1046.7,2015.22 1051.17,2014.96 1055.65,2014.72 1060.12,2014.48 1064.6,2014.25 1069.08,2014.04 1073.55,2013.83 1078.03,2013.63 1082.5,2013.43 1086.97,2013.24 1091.45,2013.05 1095.93,2012.87 1100.4,2012.68" fill="none" stroke="#CC9900" stroke-width="3.75" stroke-linejoin="round" stroke-dasharray="5.7 9.7"/>
<polygon points="652.9,2091.36 654.96,2096.53 660.51,2096.89 656.23,2100.45 657.6,2105.84 652.9,2102.86 648.2,2105.84 649.57,2100.45 645.29,2096.89 650.84,2096.53" fill="#CC9900"/>
<polygon points="778.2,2067.84 780.26,2073.01 785.81,2073.37 781.53,2076.93 782.9,2082.32 778.2,2079.34 773.5,2082.32 774.87,2076.93 770.59,2073.37 776.14,2073.01" fill="#CC9900"/>
<polygon points="921.4,2024.57 923.46,2029.74 929.01,2030.1 924.73,2033.65 926.1,2039.04 921.4,2036.07 916.7,2039.04 918.07,2033.65 913.79,2030.1 919.34,2029.74" fill="#CC9900"/>
<polygon points="1100.4,2005.28 1102.46,2010.45 1108.01,2010.81 1103.73,2014.36 1105.1,2019.75 1100.4,2016.78 1095.7,2019.75 1097.07,2014.36 1092.79,2010.81 1098.34,2010.45" fill="#CC9900"/>
<g stroke="#000" fill="none">
<path d="M563.4 1612V2129.4H1189.9" stroke-width="4.2" stroke-linecap="square"/>
<path d="M563.4 2129.4v9.8M652.9 2129.4v9.8M742.4 2129.4v9.8M831.9 2129.4v9.8M921.4 2129.4v9.8M1010.9 2129.4v9.8M1100.4 2129.4v9.8M1189.9 2129.4v9.8M608.15 2129.4v4.9M697.65 2129.4v4.9M787.15 2129.4v4.9M876.65 2129.4v4.9M966.15 2129.4v4.9M1055.65 2129.4v4.9M1145.15 2129.4v4.9M563.4 2082.3h-9.8M563.4 1988.22h-9.8M563.4 1894.14h-9.8M563.4 1800.06h-9.8M563.4 1705.98h-9.8M563.4 1611.9h-9.8M563.4 2129.34h-4.9M563.4 2035.26h-4.9M563.4 1941.18h-4.9M563.4 1847.1h-4.9M563.4 1753.02h-4.9M563.4 1658.94h-4.9" stroke-width="4.0"/>
</g>
<text transform="translate(563.4 2169.35) scale(0.935 1)" font-size="29.2" text-anchor="middle">10.0</text>
<text transform="translate(652.9 2169.35) scale(0.935 1)" font-size="29.2" text-anchor="middle">12.5</text>
<text transform="translate(742.4 2169.35) scale(0.935 1)" font-size="29.2" text-anchor="middle">15.0</text>
<text transform="translate(831.9 2169.35) scale(0.935 1)" font-size="29.2" text-anchor="middle">17.5</text>
<text transform="translate(921.4 2169.35) scale(0.935 1)" font-size="29.2" text-anchor="middle">20.0</text>
<text transform="translate(1010.9 2169.35) scale(0.935 1)" font-size="29.2" text-anchor="middle">22.5</text>
<text transform="translate(1100.4 2169.35) scale(0.935 1)" font-size="29.2" text-anchor="middle">25.0</text>
<text transform="translate(1189.9 2169.35) scale(0.935 1)" font-size="29.2" text-anchor="middle">27.5</text>
<text transform="translate(546.4 2091.17) scale(0.935 1)" font-size="29.2" text-anchor="end">2</text>
<text transform="translate(546.4 1997.09) scale(0.935 1)" font-size="29.2" text-anchor="end">4</text>
<text transform="translate(546.4 1903.01) scale(0.935 1)" font-size="29.2" text-anchor="end">6</text>
<text transform="translate(546.4 1808.93) scale(0.935 1)" font-size="29.2" text-anchor="end">8</text>
<text transform="translate(546.4 1714.85) scale(0.935 1)" font-size="29.2" text-anchor="end">10</text>
<text transform="translate(546.4 1620.77) scale(0.935 1)" font-size="29.2" text-anchor="end">12</text>
<text transform="translate(876.7 2216.9) scale(0.935 1)" font-size="31.02" text-anchor="middle">2γ</text>
<text transform="translate(507 1870.4) rotate(-90) scale(0.935 1)" font-size="31.66" text-anchor="middle">SCF</text>
<text transform="translate(877 2300.9) scale(0.98 1)" font-size="44.39" text-anchor="middle">(e)Line E</text>
<g>
<path d="M616 1639.5H668.8" fill="none" stroke="#515151" stroke-width="3.75" stroke-linejoin="round"/>
<polygon points="642.3,1631.56 634.9,1644.36 649.7,1644.36" fill="#515151"/>
<text transform="translate(674.7 1647.76) scale(0.935 1)" font-size="25.99">β=0.55,τ=0.25</text>
<path d="M616 1672.53H668.8" fill="none" stroke="#F14040" stroke-width="3.75" stroke-linejoin="round"/>
<rect x="636.5" y="1666.73" width="11.6" height="11.6" fill="#F14040"/>
<text transform="translate(674.7 1680.79) scale(0.935 1)" font-size="25.99">β=0.55,τ=0.50</text>
<path d="M616 1705.56H668.8" fill="none" stroke="#1A6FDF" stroke-width="3.75" stroke-linejoin="round"/>
<circle cx="642.3" cy="1705.56" r="6.5" fill="#1A6FDF"/>
<text transform="translate(674.7 1713.82) scale(0.935 1)" font-size="25.99">β=0.55,τ=1.00</text>
<path d="M616 1738.59H668.8" fill="none" stroke="#37AD6B" stroke-width="3.75" stroke-linejoin="round" stroke-dasharray="17.3 11.5 3 11.5"/>
<polygon points="642.3,1731.49 648.45,1735.04 648.45,1742.14 642.3,1745.69 636.15,1742.14 636.15,1735.04" fill="#37AD6B"/>
<text transform="translate(674.7 1746.85) scale(0.935 1)" font-size="25.99">β=0.85,τ=0.25</text>
<path d="M616 1771.62H668.8" fill="none" stroke="#B177DE" stroke-width="3.75" stroke-linejoin="round" stroke-dasharray="13 10.7 3 10.7 3 10.7"/>
<polygon points="642.3,1763.82 650.1,1771.62 642.3,1779.42 634.5,1771.62" fill="#B177DE"/>
<text transform="translate(674.7 1779.88) scale(0.935 1)" font-size="25.99">β=0.85,τ=0.50</text>
<path d="M616 1804.65H668.8" fill="none" stroke="#CC9900" stroke-width="3.75" stroke-linejoin="round" stroke-dasharray="5.7 9.7"/>
<polygon points="642.3,1797.25 644.36,1802.42 649.91,1802.78 645.63,1806.33 647,1811.72 642.3,1808.75 637.6,1811.72 638.97,1806.33 634.69,1802.78 640.24,1802.42" fill="#CC9900"/>
<text transform="translate(674.7 1812.91) scale(0.935 1)" font-size="25.99">β=0.85,τ=1.00</text>
</g>
</g>
</svg></body></html>
